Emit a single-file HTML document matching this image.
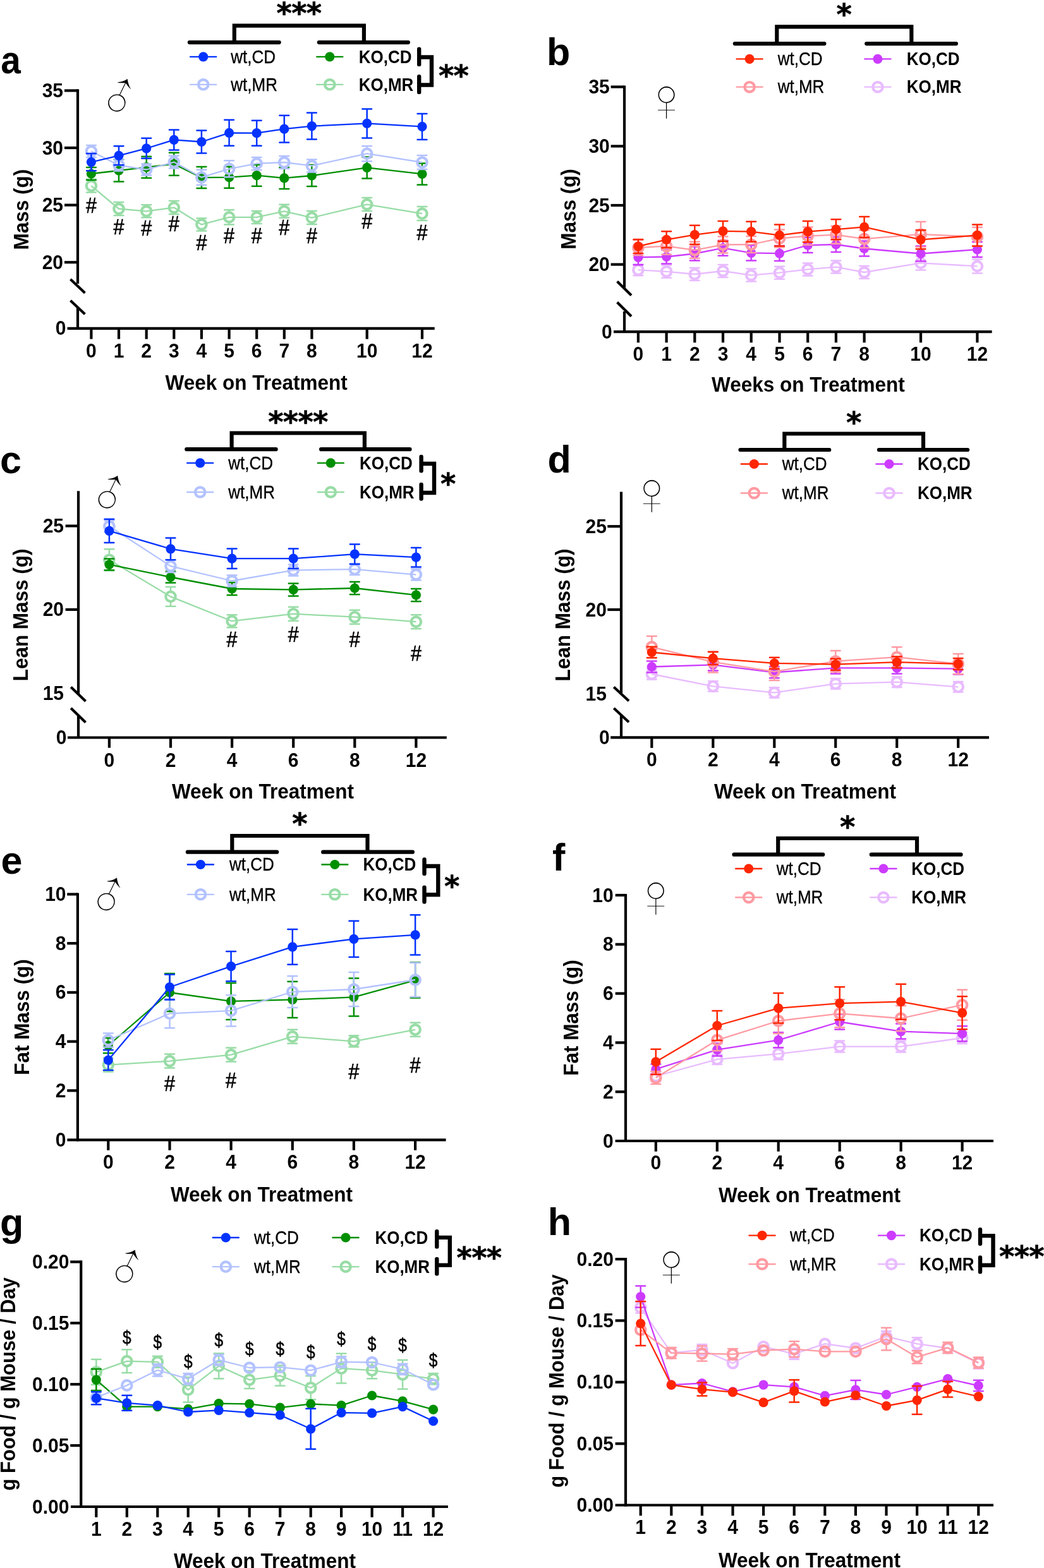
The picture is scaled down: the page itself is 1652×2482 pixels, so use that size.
<!DOCTYPE html>
<html><head><meta charset="utf-8"><title>Figure</title>
<style>html,body{margin:0;padding:0;background:#fff;} svg{display:block;} text{font-family:'Liberation Sans', Arial, Helvetica, sans-serif;fill:#000;}</style>
</head><body>
<svg width="1652" height="2482" viewBox="0 0 1652 2482">
<rect width="1652" height="2482" fill="#fff"/>

<text transform="translate(1.2 116.0) scale(0.93 1)" x="0" y="0" font-size="61" font-weight="bold">a</text>
<line x1="123" y1="141.3" x2="123" y2="449" stroke="#000" stroke-width="4.2" stroke-linecap="butt"/>
<line x1="123" y1="487" x2="123" y2="519.8" stroke="#000" stroke-width="4.2" stroke-linecap="butt"/>
<line x1="111.5" y1="442" x2="134.4" y2="463.7" stroke="#000" stroke-width="4.2" stroke-linecap="butt"/>
<line x1="111.5" y1="475.7" x2="134.4" y2="497.3" stroke="#000" stroke-width="4.2" stroke-linecap="butt"/>
<line x1="102" y1="143.4" x2="123" y2="143.4" stroke="#000" stroke-width="4.2" stroke-linecap="butt"/>
<text transform="translate(100 153.9) scale(1 1.05)" x="0" y="0" font-size="30" font-weight="bold" text-anchor="end">35</text>
<line x1="102" y1="234" x2="123" y2="234" stroke="#000" stroke-width="4.2" stroke-linecap="butt"/>
<text transform="translate(100 244.5) scale(1 1.05)" x="0" y="0" font-size="30" font-weight="bold" text-anchor="end">30</text>
<line x1="102" y1="324.6" x2="123" y2="324.6" stroke="#000" stroke-width="4.2" stroke-linecap="butt"/>
<text transform="translate(100 335.1) scale(1 1.05)" x="0" y="0" font-size="30" font-weight="bold" text-anchor="end">25</text>
<line x1="102" y1="415.2" x2="123" y2="415.2" stroke="#000" stroke-width="4.2" stroke-linecap="butt"/>
<text transform="translate(100 425.7) scale(1 1.05)" x="0" y="0" font-size="30" font-weight="bold" text-anchor="end">20</text>
<line x1="106.6" y1="519.8" x2="687.7" y2="519.8" stroke="#000" stroke-width="4.2" stroke-linecap="butt"/>
<line x1="144.4" y1="519.8" x2="144.4" y2="536.7" stroke="#000" stroke-width="4.2" stroke-linecap="butt"/>
<text transform="translate(144.4 566.3) scale(1 1.05)" x="0" y="0" font-size="30" font-weight="bold" text-anchor="middle">0</text>
<line x1="188" y1="519.8" x2="188" y2="536.7" stroke="#000" stroke-width="4.2" stroke-linecap="butt"/>
<text transform="translate(188 566.3) scale(1 1.05)" x="0" y="0" font-size="30" font-weight="bold" text-anchor="middle">1</text>
<line x1="231.7" y1="519.8" x2="231.7" y2="536.7" stroke="#000" stroke-width="4.2" stroke-linecap="butt"/>
<text transform="translate(231.7 566.3) scale(1 1.05)" x="0" y="0" font-size="30" font-weight="bold" text-anchor="middle">2</text>
<line x1="275.3" y1="519.8" x2="275.3" y2="536.7" stroke="#000" stroke-width="4.2" stroke-linecap="butt"/>
<text transform="translate(275.3 566.3) scale(1 1.05)" x="0" y="0" font-size="30" font-weight="bold" text-anchor="middle">3</text>
<line x1="318.9" y1="519.8" x2="318.9" y2="536.7" stroke="#000" stroke-width="4.2" stroke-linecap="butt"/>
<text transform="translate(318.9 566.3) scale(1 1.05)" x="0" y="0" font-size="30" font-weight="bold" text-anchor="middle">4</text>
<line x1="362.6" y1="519.8" x2="362.6" y2="536.7" stroke="#000" stroke-width="4.2" stroke-linecap="butt"/>
<text transform="translate(362.6 566.3) scale(1 1.05)" x="0" y="0" font-size="30" font-weight="bold" text-anchor="middle">5</text>
<line x1="406.2" y1="519.8" x2="406.2" y2="536.7" stroke="#000" stroke-width="4.2" stroke-linecap="butt"/>
<text transform="translate(406.2 566.3) scale(1 1.05)" x="0" y="0" font-size="30" font-weight="bold" text-anchor="middle">6</text>
<line x1="449.8" y1="519.8" x2="449.8" y2="536.7" stroke="#000" stroke-width="4.2" stroke-linecap="butt"/>
<text transform="translate(449.8 566.3) scale(1 1.05)" x="0" y="0" font-size="30" font-weight="bold" text-anchor="middle">7</text>
<line x1="493.4" y1="519.8" x2="493.4" y2="536.7" stroke="#000" stroke-width="4.2" stroke-linecap="butt"/>
<text transform="translate(493.4 566.3) scale(1 1.05)" x="0" y="0" font-size="30" font-weight="bold" text-anchor="middle">8</text>
<line x1="580.7" y1="519.8" x2="580.7" y2="536.7" stroke="#000" stroke-width="4.2" stroke-linecap="butt"/>
<text transform="translate(580.7 566.3) scale(1 1.05)" x="0" y="0" font-size="30" font-weight="bold" text-anchor="middle">10</text>
<line x1="668" y1="519.8" x2="668" y2="536.7" stroke="#000" stroke-width="4.2" stroke-linecap="butt"/>
<text transform="translate(668 566.3) scale(1 1.05)" x="0" y="0" font-size="30" font-weight="bold" text-anchor="middle">12</text>
<text transform="translate(104.5 530.3) scale(1 1.05)" x="0" y="0" font-size="30" font-weight="bold" text-anchor="end">0</text>
<text transform="translate(405.6 616.8) scale(1 1.06)" x="0" y="0" font-size="31.5" font-weight="bold" text-anchor="middle">Week on Treatment</text>
<text transform="translate(44.5 331.7) rotate(-90) scale(1 1.06)" x="0" y="0" font-size="31.5" font-weight="bold" text-anchor="middle">Mass (g)</text>
<polyline points="144.4,294.1 188,330.5 231.7,334.3 275.3,328.6 318.9,355.4 362.6,343.9 406.2,343.9 449.8,334.3 493.4,344.6 580.7,323.6 668,338.1" fill="none" stroke="#98DCA6" stroke-width="2.3" stroke-linejoin="round"/>
<path d="M144.4 283.6V284.5M144.4 303.7V304.6M137 283.6H151.8M137 304.6H151.8" stroke="#98DCA6" stroke-width="2.5" stroke-linecap="round" fill="none"/>
<path d="M188 320V320.9M188 340.1V341M180.6 320H195.4M180.6 341H195.4" stroke="#98DCA6" stroke-width="2.5" stroke-linecap="round" fill="none"/>
<path d="M231.7 324.3V324.7M231.7 343.9V344.3M224.3 324.3H239.1M224.3 344.3H239.1" stroke="#98DCA6" stroke-width="2.5" stroke-linecap="round" fill="none"/>
<path d="M275.3 318.1V319M275.3 338.2V339.1M267.9 318.1H282.7M267.9 339.1H282.7" stroke="#98DCA6" stroke-width="2.5" stroke-linecap="round" fill="none"/>
<path d="M318.9 345.4V345.8M318.9 365V365.4M311.5 345.4H326.3M311.5 365.4H326.3" stroke="#98DCA6" stroke-width="2.5" stroke-linecap="round" fill="none"/>
<path d="M362.6 332.2V334.3M362.6 353.5V355.6M355.2 332.2H369.9M355.2 355.6H369.9" stroke="#98DCA6" stroke-width="2.5" stroke-linecap="round" fill="none"/>
<path d="M406.2 333.9V334.3M406.2 353.5V353.9M398.8 333.9H413.6M398.8 353.9H413.6" stroke="#98DCA6" stroke-width="2.5" stroke-linecap="round" fill="none"/>
<path d="M449.8 323.8V324.7M449.8 343.9V344.8M442.4 323.8H457.2M442.4 344.8H457.2" stroke="#98DCA6" stroke-width="2.5" stroke-linecap="round" fill="none"/>
<path d="M493.4 334.1V335M493.4 354.2V355.1M486 334.1H500.8M486 355.1H500.8" stroke="#98DCA6" stroke-width="2.5" stroke-linecap="round" fill="none"/>
<path d="M580.7 313.1V314M580.7 333.2V334.1M573.3 313.1H588.1M573.3 334.1H588.1" stroke="#98DCA6" stroke-width="2.5" stroke-linecap="round" fill="none"/>
<path d="M668 327.1V328.5M668 347.7V349.1M660.6 327.1H675.4M660.6 349.1H675.4" stroke="#98DCA6" stroke-width="2.5" stroke-linecap="round" fill="none"/>
<circle cx="144.4" cy="294.1" r="7.7" fill="none" stroke="#98DCA6" stroke-width="4.2"/>
<circle cx="188" cy="330.5" r="7.7" fill="none" stroke="#98DCA6" stroke-width="4.2"/>
<circle cx="231.7" cy="334.3" r="7.7" fill="none" stroke="#98DCA6" stroke-width="4.2"/>
<circle cx="275.3" cy="328.6" r="7.7" fill="none" stroke="#98DCA6" stroke-width="4.2"/>
<circle cx="318.9" cy="355.4" r="7.7" fill="none" stroke="#98DCA6" stroke-width="4.2"/>
<circle cx="362.6" cy="343.9" r="7.7" fill="none" stroke="#98DCA6" stroke-width="4.2"/>
<circle cx="406.2" cy="343.9" r="7.7" fill="none" stroke="#98DCA6" stroke-width="4.2"/>
<circle cx="449.8" cy="334.3" r="7.7" fill="none" stroke="#98DCA6" stroke-width="4.2"/>
<circle cx="493.4" cy="344.6" r="7.7" fill="none" stroke="#98DCA6" stroke-width="4.2"/>
<circle cx="580.7" cy="323.6" r="7.7" fill="none" stroke="#98DCA6" stroke-width="4.2"/>
<circle cx="668" cy="338.1" r="7.7" fill="none" stroke="#98DCA6" stroke-width="4.2"/>
<polyline points="144.4,275 188,270 231.7,264.7 275.3,259.7 318.9,281.1 362.6,280.7 406.2,277.7 449.8,281.9 493.4,278 580.7,265.4 668,275.4" fill="none" stroke="#008F00" stroke-width="2.3" stroke-linejoin="round"/>
<path d="M144.4 265V268M144.4 282V285M137 265H151.8M137 285H151.8" stroke="#008F00" stroke-width="2.5" stroke-linecap="round" fill="none"/>
<path d="M188 252.5V263M188 277V287.5M180.6 252.5H195.4M180.6 287.5H195.4" stroke="#008F00" stroke-width="2.5" stroke-linecap="round" fill="none"/>
<path d="M231.7 247.7V257.7M231.7 271.7V281.7M224.3 247.7H239.1M224.3 281.7H239.1" stroke="#008F00" stroke-width="2.5" stroke-linecap="round" fill="none"/>
<path d="M275.3 241.7V252.7M275.3 266.7V277.7M267.9 241.7H282.7M267.9 277.7H282.7" stroke="#008F00" stroke-width="2.5" stroke-linecap="round" fill="none"/>
<path d="M318.9 264.1V274.1M318.9 288.1V298.1M311.5 264.1H326.3M311.5 298.1H326.3" stroke="#008F00" stroke-width="2.5" stroke-linecap="round" fill="none"/>
<path d="M362.6 263.7V273.7M362.6 287.7V297.7M355.2 263.7H369.9M355.2 297.7H369.9" stroke="#008F00" stroke-width="2.5" stroke-linecap="round" fill="none"/>
<path d="M406.2 260.7V270.7M406.2 284.7V294.7M398.8 260.7H413.6M398.8 294.7H413.6" stroke="#008F00" stroke-width="2.5" stroke-linecap="round" fill="none"/>
<path d="M449.8 264.9V274.9M449.8 288.9V298.9M442.4 264.9H457.2M442.4 298.9H457.2" stroke="#008F00" stroke-width="2.5" stroke-linecap="round" fill="none"/>
<path d="M493.4 261V271M493.4 285V295M486 261H500.8M486 295H500.8" stroke="#008F00" stroke-width="2.5" stroke-linecap="round" fill="none"/>
<path d="M580.7 248.4V258.4M580.7 272.4V282.4M573.3 248.4H588.1M573.3 282.4H588.1" stroke="#008F00" stroke-width="2.5" stroke-linecap="round" fill="none"/>
<path d="M668 258.4V268.4M668 282.4V292.4M660.6 258.4H675.4M660.6 292.4H675.4" stroke="#008F00" stroke-width="2.5" stroke-linecap="round" fill="none"/>
<circle cx="144.4" cy="275" r="7.6" fill="#008F00"/>
<circle cx="188" cy="270" r="7.6" fill="#008F00"/>
<circle cx="231.7" cy="264.7" r="7.6" fill="#008F00"/>
<circle cx="275.3" cy="259.7" r="7.6" fill="#008F00"/>
<circle cx="318.9" cy="281.1" r="7.6" fill="#008F00"/>
<circle cx="362.6" cy="280.7" r="7.6" fill="#008F00"/>
<circle cx="406.2" cy="277.7" r="7.6" fill="#008F00"/>
<circle cx="449.8" cy="281.9" r="7.6" fill="#008F00"/>
<circle cx="493.4" cy="278" r="7.6" fill="#008F00"/>
<circle cx="580.7" cy="265.4" r="7.6" fill="#008F00"/>
<circle cx="668" cy="275.4" r="7.6" fill="#008F00"/>
<polyline points="144.4,239.4 188,261.6 231.7,268.5 275.3,256.6 318.9,280.7 362.6,267.3 406.2,258.9 449.8,257 493.4,262.4 580.7,243.2 668,257" fill="none" stroke="#B3C2FF" stroke-width="2.3" stroke-linejoin="round"/>
<path d="M137 229.9H151.8M137 248.9H151.8" stroke="#B3C2FF" stroke-width="2.5" stroke-linecap="round" fill="none"/>
<path d="M180.6 252.6H195.4M180.6 270.6H195.4" stroke="#B3C2FF" stroke-width="2.5" stroke-linecap="round" fill="none"/>
<path d="M224.3 259.5H239.1M224.3 277.5H239.1" stroke="#B3C2FF" stroke-width="2.5" stroke-linecap="round" fill="none"/>
<path d="M275.3 246.6V247M275.3 266.2V266.6M267.9 246.6H282.7M267.9 266.6H282.7" stroke="#B3C2FF" stroke-width="2.5" stroke-linecap="round" fill="none"/>
<path d="M318.9 268.7V271.1M318.9 290.3V292.7M311.5 268.7H326.3M311.5 292.7H326.3" stroke="#B3C2FF" stroke-width="2.5" stroke-linecap="round" fill="none"/>
<path d="M362.6 254.3V257.7M362.6 276.9V280.3M355.2 254.3H369.9M355.2 280.3H369.9" stroke="#B3C2FF" stroke-width="2.5" stroke-linecap="round" fill="none"/>
<path d="M406.2 248.9V249.3M406.2 268.5V268.9M398.8 248.9H413.6M398.8 268.9H413.6" stroke="#B3C2FF" stroke-width="2.5" stroke-linecap="round" fill="none"/>
<path d="M449.8 247V247.4M449.8 266.6V267M442.4 247H457.2M442.4 267H457.2" stroke="#B3C2FF" stroke-width="2.5" stroke-linecap="round" fill="none"/>
<path d="M493.4 252.4V252.8M493.4 272V272.4M486 252.4H500.8M486 272.4H500.8" stroke="#B3C2FF" stroke-width="2.5" stroke-linecap="round" fill="none"/>
<path d="M580.7 231.2V233.6M580.7 252.8V255.2M573.3 231.2H588.1M573.3 255.2H588.1" stroke="#B3C2FF" stroke-width="2.5" stroke-linecap="round" fill="none"/>
<path d="M668 246V247.4M668 266.6V268M660.6 246H675.4M660.6 268H675.4" stroke="#B3C2FF" stroke-width="2.5" stroke-linecap="round" fill="none"/>
<circle cx="144.4" cy="239.4" r="7.7" fill="none" stroke="#B3C2FF" stroke-width="4.2"/>
<circle cx="188" cy="261.6" r="7.7" fill="none" stroke="#B3C2FF" stroke-width="4.2"/>
<circle cx="231.7" cy="268.5" r="7.7" fill="none" stroke="#B3C2FF" stroke-width="4.2"/>
<circle cx="275.3" cy="256.6" r="7.7" fill="none" stroke="#B3C2FF" stroke-width="4.2"/>
<circle cx="318.9" cy="280.7" r="7.7" fill="none" stroke="#B3C2FF" stroke-width="4.2"/>
<circle cx="362.6" cy="267.3" r="7.7" fill="none" stroke="#B3C2FF" stroke-width="4.2"/>
<circle cx="406.2" cy="258.9" r="7.7" fill="none" stroke="#B3C2FF" stroke-width="4.2"/>
<circle cx="449.8" cy="257" r="7.7" fill="none" stroke="#B3C2FF" stroke-width="4.2"/>
<circle cx="493.4" cy="262.4" r="7.7" fill="none" stroke="#B3C2FF" stroke-width="4.2"/>
<circle cx="580.7" cy="243.2" r="7.7" fill="none" stroke="#B3C2FF" stroke-width="4.2"/>
<circle cx="668" cy="257" r="7.7" fill="none" stroke="#B3C2FF" stroke-width="4.2"/>
<polyline points="144.4,256.6 188,246.3 231.7,234.8 275.3,221.4 318.9,224.5 362.6,210.3 406.2,210.7 449.8,204.2 493.4,199.6 580.7,195.4 668,200.4" fill="none" stroke="#0433FF" stroke-width="2.3" stroke-linejoin="round"/>
<path d="M144.4 243V249.6M144.4 263.6V270.2M137 243H151.8M137 270.2H151.8" stroke="#0433FF" stroke-width="2.5" stroke-linecap="round" fill="none"/>
<path d="M188 231.3V239.3M188 253.3V261.3M180.6 231.3H195.4M180.6 261.3H195.4" stroke="#0433FF" stroke-width="2.5" stroke-linecap="round" fill="none"/>
<path d="M231.7 218.8V227.8M231.7 241.8V250.8M224.3 218.8H239.1M224.3 250.8H239.1" stroke="#0433FF" stroke-width="2.5" stroke-linecap="round" fill="none"/>
<path d="M275.3 205.4V214.4M275.3 228.4V237.4M267.9 205.4H282.7M267.9 237.4H282.7" stroke="#0433FF" stroke-width="2.5" stroke-linecap="round" fill="none"/>
<path d="M318.9 206.5V217.5M318.9 231.5V242.5M311.5 206.5H326.3M311.5 242.5H326.3" stroke="#0433FF" stroke-width="2.5" stroke-linecap="round" fill="none"/>
<path d="M362.6 189.8V203.3M362.6 217.3V230.8M355.2 189.8H369.9M355.2 230.8H369.9" stroke="#0433FF" stroke-width="2.5" stroke-linecap="round" fill="none"/>
<path d="M406.2 190.7V203.7M406.2 217.7V230.7M398.8 190.7H413.6M398.8 230.7H413.6" stroke="#0433FF" stroke-width="2.5" stroke-linecap="round" fill="none"/>
<path d="M449.8 182.8V197.2M449.8 211.2V225.6M442.4 182.8H457.2M442.4 225.6H457.2" stroke="#0433FF" stroke-width="2.5" stroke-linecap="round" fill="none"/>
<path d="M493.4 178.6V192.6M493.4 206.6V220.6M486 178.6H500.8M486 220.6H500.8" stroke="#0433FF" stroke-width="2.5" stroke-linecap="round" fill="none"/>
<path d="M580.7 172.4V188.4M580.7 202.4V218.4M573.3 172.4H588.1M573.3 218.4H588.1" stroke="#0433FF" stroke-width="2.5" stroke-linecap="round" fill="none"/>
<path d="M668 179.9V193.4M668 207.4V220.9M660.6 179.9H675.4M660.6 220.9H675.4" stroke="#0433FF" stroke-width="2.5" stroke-linecap="round" fill="none"/>
<circle cx="144.4" cy="256.6" r="7.6" fill="#0433FF"/>
<circle cx="188" cy="246.3" r="7.6" fill="#0433FF"/>
<circle cx="231.7" cy="234.8" r="7.6" fill="#0433FF"/>
<circle cx="275.3" cy="221.4" r="7.6" fill="#0433FF"/>
<circle cx="318.9" cy="224.5" r="7.6" fill="#0433FF"/>
<circle cx="362.6" cy="210.3" r="7.6" fill="#0433FF"/>
<circle cx="406.2" cy="210.7" r="7.6" fill="#0433FF"/>
<circle cx="449.8" cy="204.2" r="7.6" fill="#0433FF"/>
<circle cx="493.4" cy="199.6" r="7.6" fill="#0433FF"/>
<circle cx="580.7" cy="195.4" r="7.6" fill="#0433FF"/>
<circle cx="668" cy="200.4" r="7.6" fill="#0433FF"/>
<text transform="translate(144.4 324.7) scale(0.86 1)" x="0" y="12.1" font-size="35.5" font-weight="normal" text-anchor="middle" stroke="#000" stroke-width="0.6">#</text>
<text transform="translate(188 359) scale(0.86 1)" x="0" y="12.1" font-size="35.5" font-weight="normal" text-anchor="middle" stroke="#000" stroke-width="0.6">#</text>
<text transform="translate(231.7 361) scale(0.86 1)" x="0" y="12.1" font-size="35.5" font-weight="normal" text-anchor="middle" stroke="#000" stroke-width="0.6">#</text>
<text transform="translate(275.3 354) scale(0.86 1)" x="0" y="12.1" font-size="35.5" font-weight="normal" text-anchor="middle" stroke="#000" stroke-width="0.6">#</text>
<text transform="translate(318.9 384) scale(0.86 1)" x="0" y="12.1" font-size="35.5" font-weight="normal" text-anchor="middle" stroke="#000" stroke-width="0.6">#</text>
<text transform="translate(362.6 373) scale(0.86 1)" x="0" y="12.1" font-size="35.5" font-weight="normal" text-anchor="middle" stroke="#000" stroke-width="0.6">#</text>
<text transform="translate(406.2 372.6) scale(0.86 1)" x="0" y="12.1" font-size="35.5" font-weight="normal" text-anchor="middle" stroke="#000" stroke-width="0.6">#</text>
<text transform="translate(449.8 360) scale(0.86 1)" x="0" y="12.1" font-size="35.5" font-weight="normal" text-anchor="middle" stroke="#000" stroke-width="0.6">#</text>
<text transform="translate(493.4 373) scale(0.86 1)" x="0" y="12.1" font-size="35.5" font-weight="normal" text-anchor="middle" stroke="#000" stroke-width="0.6">#</text>
<text transform="translate(580.7 350) scale(0.86 1)" x="0" y="12.1" font-size="35.5" font-weight="normal" text-anchor="middle" stroke="#000" stroke-width="0.6">#</text>
<text transform="translate(668 368) scale(0.86 1)" x="0" y="12.1" font-size="35.5" font-weight="normal" text-anchor="middle" stroke="#000" stroke-width="0.6">#</text>
<line x1="300.2" y1="89.8" x2="343.2" y2="89.8" stroke="#0433FF" stroke-width="2.3" stroke-linecap="butt"/>
<circle cx="321.7" cy="89.8" r="7.6" fill="#0433FF"/>
<text transform="translate(365.3 99.5) scale(1 1.1)" x="0" y="0" font-size="26" font-weight="normal" text-anchor="start" stroke="#000" stroke-width="0.3">wt,CD</text>
<line x1="500.3" y1="89.8" x2="543.3" y2="89.8" stroke="#008F00" stroke-width="2.3" stroke-linecap="butt"/>
<circle cx="521.8" cy="89.8" r="7.6" fill="#008F00"/>
<text transform="translate(567.7 99.5) scale(1 1.1)" x="0" y="0" font-size="26" font-weight="bold" text-anchor="start">KO,CD</text>
<line x1="300.2" y1="133.8" x2="343.2" y2="133.8" stroke="#B3C2FF" stroke-width="2.3" stroke-linecap="butt"/>
<circle cx="321.7" cy="133.8" r="7.7" fill="none" stroke="#B3C2FF" stroke-width="4.2"/>
<text transform="translate(365.3 143.5) scale(1 1.1)" x="0" y="0" font-size="26" font-weight="normal" text-anchor="start" stroke="#000" stroke-width="0.3">wt,MR</text>
<line x1="500.3" y1="133.8" x2="543.3" y2="133.8" stroke="#98DCA6" stroke-width="2.3" stroke-linecap="butt"/>
<circle cx="521.8" cy="133.8" r="7.7" fill="none" stroke="#98DCA6" stroke-width="4.2"/>
<text transform="translate(567.7 143.5) scale(1 1.1)" x="0" y="0" font-size="26" font-weight="bold" text-anchor="start">KO,MR</text>
<path d="M299.9 67.1H441.7M504.8 67.1H645.9" stroke="#000" stroke-width="6.2" stroke-linecap="round" fill="none"/>
<path d="M370.8 67.1V40.7H575.9V67.1" stroke="#000" stroke-width="6.2" stroke-linejoin="miter" fill="none"/>
<text x="437.6" y="36.6" font-size="46.5" font-weight="bold" text-anchor="start" letter-spacing="-0.7" stroke="#000" stroke-width="0.6" stroke-linejoin="round" style="font-family:'DejaVu Sans',sans-serif">***</text>
<path d="M663.2 77.7V101.9M663.2 121.3V145.9" stroke="#000" stroke-width="6.4" stroke-linecap="round" fill="none"/>
<path d="M663.2 90.5H683V134.5H663.2" stroke="#000" stroke-width="6.4" stroke-linejoin="miter" fill="none"/>
<text x="693.9" y="136.2" font-size="46.5" font-weight="bold" text-anchor="start" letter-spacing="-0.7" stroke="#000" stroke-width="0.6" stroke-linejoin="round" style="font-family:'DejaVu Sans',sans-serif">**</text>
<text x="152.4" y="190.7" font-size="106" font-weight="normal" stroke="#fff" stroke-width="2.3" transform="rotate(-19 184.9 162.9)">&#9794;</text>
<text x="865" y="102.9" font-size="61" font-weight="bold" text-anchor="start">b</text>
<line x1="988" y1="135.4" x2="988" y2="455" stroke="#000" stroke-width="4.2" stroke-linecap="butt"/>
<line x1="988" y1="493" x2="988" y2="525.1" stroke="#000" stroke-width="4.2" stroke-linecap="butt"/>
<line x1="976.6" y1="445.4" x2="999" y2="467.6" stroke="#000" stroke-width="4.2" stroke-linecap="butt"/>
<line x1="976.6" y1="478.6" x2="999" y2="500.8" stroke="#000" stroke-width="4.2" stroke-linecap="butt"/>
<line x1="966.6" y1="137.5" x2="988" y2="137.5" stroke="#000" stroke-width="4.2" stroke-linecap="butt"/>
<text transform="translate(964.8 148) scale(1 1.05)" x="0" y="0" font-size="30" font-weight="bold" text-anchor="end">35</text>
<line x1="966.6" y1="231.4" x2="988" y2="231.4" stroke="#000" stroke-width="4.2" stroke-linecap="butt"/>
<text transform="translate(964.8 241.9) scale(1 1.05)" x="0" y="0" font-size="30" font-weight="bold" text-anchor="end">30</text>
<line x1="966.6" y1="325" x2="988" y2="325" stroke="#000" stroke-width="4.2" stroke-linecap="butt"/>
<text transform="translate(964.8 335.5) scale(1 1.05)" x="0" y="0" font-size="30" font-weight="bold" text-anchor="end">25</text>
<line x1="966.6" y1="418.6" x2="988" y2="418.6" stroke="#000" stroke-width="4.2" stroke-linecap="butt"/>
<text transform="translate(964.8 429.1) scale(1 1.05)" x="0" y="0" font-size="30" font-weight="bold" text-anchor="end">20</text>
<line x1="971" y1="525.1" x2="1569.6" y2="525.1" stroke="#000" stroke-width="4.2" stroke-linecap="butt"/>
<line x1="1009.9" y1="525.1" x2="1009.9" y2="542.3" stroke="#000" stroke-width="4.2" stroke-linecap="butt"/>
<text transform="translate(1009.9 570.6) scale(1 1.05)" x="0" y="0" font-size="30" font-weight="bold" text-anchor="middle">0</text>
<line x1="1054.6" y1="525.1" x2="1054.6" y2="542.3" stroke="#000" stroke-width="4.2" stroke-linecap="butt"/>
<text transform="translate(1054.6 570.6) scale(1 1.05)" x="0" y="0" font-size="30" font-weight="bold" text-anchor="middle">1</text>
<line x1="1099.3" y1="525.1" x2="1099.3" y2="542.3" stroke="#000" stroke-width="4.2" stroke-linecap="butt"/>
<text transform="translate(1099.3 570.6) scale(1 1.05)" x="0" y="0" font-size="30" font-weight="bold" text-anchor="middle">2</text>
<line x1="1144" y1="525.1" x2="1144" y2="542.3" stroke="#000" stroke-width="4.2" stroke-linecap="butt"/>
<text transform="translate(1144 570.6) scale(1 1.05)" x="0" y="0" font-size="30" font-weight="bold" text-anchor="middle">3</text>
<line x1="1188.7" y1="525.1" x2="1188.7" y2="542.3" stroke="#000" stroke-width="4.2" stroke-linecap="butt"/>
<text transform="translate(1188.7 570.6) scale(1 1.05)" x="0" y="0" font-size="30" font-weight="bold" text-anchor="middle">4</text>
<line x1="1233.5" y1="525.1" x2="1233.5" y2="542.3" stroke="#000" stroke-width="4.2" stroke-linecap="butt"/>
<text transform="translate(1233.5 570.6) scale(1 1.05)" x="0" y="0" font-size="30" font-weight="bold" text-anchor="middle">5</text>
<line x1="1278.2" y1="525.1" x2="1278.2" y2="542.3" stroke="#000" stroke-width="4.2" stroke-linecap="butt"/>
<text transform="translate(1278.2 570.6) scale(1 1.05)" x="0" y="0" font-size="30" font-weight="bold" text-anchor="middle">6</text>
<line x1="1322.9" y1="525.1" x2="1322.9" y2="542.3" stroke="#000" stroke-width="4.2" stroke-linecap="butt"/>
<text transform="translate(1322.9 570.6) scale(1 1.05)" x="0" y="0" font-size="30" font-weight="bold" text-anchor="middle">7</text>
<line x1="1367.6" y1="525.1" x2="1367.6" y2="542.3" stroke="#000" stroke-width="4.2" stroke-linecap="butt"/>
<text transform="translate(1367.6 570.6) scale(1 1.05)" x="0" y="0" font-size="30" font-weight="bold" text-anchor="middle">8</text>
<line x1="1457" y1="525.1" x2="1457" y2="542.3" stroke="#000" stroke-width="4.2" stroke-linecap="butt"/>
<text transform="translate(1457 570.6) scale(1 1.05)" x="0" y="0" font-size="30" font-weight="bold" text-anchor="middle">10</text>
<line x1="1546.4" y1="525.1" x2="1546.4" y2="542.3" stroke="#000" stroke-width="4.2" stroke-linecap="butt"/>
<text transform="translate(1546.4 570.6) scale(1 1.05)" x="0" y="0" font-size="30" font-weight="bold" text-anchor="middle">12</text>
<text transform="translate(968.7 535.6) scale(1 1.05)" x="0" y="0" font-size="30" font-weight="bold" text-anchor="end">0</text>
<text transform="translate(1278.9 619.6) scale(1 1.06)" x="0" y="0" font-size="31.5" font-weight="bold" text-anchor="middle">Weeks on Treatment</text>
<text transform="translate(910.5 331) rotate(-90) scale(1 1.06)" x="0" y="0" font-size="31.5" font-weight="bold" text-anchor="middle">Mass (g)</text>
<polyline points="1009.9,427.2 1054.6,429.8 1099.3,434 1144,429 1188.7,435.6 1233.5,431.7 1278.2,426.4 1322.9,422.6 1367.6,431 1457,416.4 1546.4,421.4" fill="none" stroke="#E8BBFF" stroke-width="2.3" stroke-linejoin="round"/>
<path d="M1002.5 418.2H1017.3M1002.5 436.2H1017.3" stroke="#E8BBFF" stroke-width="2.5" stroke-linecap="round" fill="none"/>
<path d="M1054.6 419.8V420.2M1054.6 439.4V439.8M1047.2 419.8H1062M1047.2 439.8H1062" stroke="#E8BBFF" stroke-width="2.5" stroke-linecap="round" fill="none"/>
<path d="M1099.3 424V424.4M1099.3 443.6V444M1091.9 424H1106.7M1091.9 444H1106.7" stroke="#E8BBFF" stroke-width="2.5" stroke-linecap="round" fill="none"/>
<path d="M1144 419V419.4M1144 438.6V439M1136.6 419H1151.4M1136.6 439H1151.4" stroke="#E8BBFF" stroke-width="2.5" stroke-linecap="round" fill="none"/>
<path d="M1188.7 425.6V426M1188.7 445.2V445.6M1181.3 425.6H1196.1M1181.3 445.6H1196.1" stroke="#E8BBFF" stroke-width="2.5" stroke-linecap="round" fill="none"/>
<path d="M1233.5 421.7V422.1M1233.5 441.3V441.7M1226 421.7H1240.9M1226 441.7H1240.9" stroke="#E8BBFF" stroke-width="2.5" stroke-linecap="round" fill="none"/>
<path d="M1278.2 416.4V416.8M1278.2 436V436.4M1270.8 416.4H1285.6M1270.8 436.4H1285.6" stroke="#E8BBFF" stroke-width="2.5" stroke-linecap="round" fill="none"/>
<path d="M1322.9 412.6V413M1322.9 432.2V432.6M1315.5 412.6H1330.3M1315.5 432.6H1330.3" stroke="#E8BBFF" stroke-width="2.5" stroke-linecap="round" fill="none"/>
<path d="M1367.6 421V421.4M1367.6 440.6V441M1360.2 421H1375M1360.2 441H1375" stroke="#E8BBFF" stroke-width="2.5" stroke-linecap="round" fill="none"/>
<path d="M1457 405.4V406.8M1457 426V427.4M1449.6 405.4H1464.4M1449.6 427.4H1464.4" stroke="#E8BBFF" stroke-width="2.5" stroke-linecap="round" fill="none"/>
<path d="M1546.4 410.4V411.8M1546.4 431V432.4M1539 410.4H1553.8M1539 432.4H1553.8" stroke="#E8BBFF" stroke-width="2.5" stroke-linecap="round" fill="none"/>
<circle cx="1009.9" cy="427.2" r="7.7" fill="none" stroke="#E8BBFF" stroke-width="4.2"/>
<circle cx="1054.6" cy="429.8" r="7.7" fill="none" stroke="#E8BBFF" stroke-width="4.2"/>
<circle cx="1099.3" cy="434" r="7.7" fill="none" stroke="#E8BBFF" stroke-width="4.2"/>
<circle cx="1144" cy="429" r="7.7" fill="none" stroke="#E8BBFF" stroke-width="4.2"/>
<circle cx="1188.7" cy="435.6" r="7.7" fill="none" stroke="#E8BBFF" stroke-width="4.2"/>
<circle cx="1233.5" cy="431.7" r="7.7" fill="none" stroke="#E8BBFF" stroke-width="4.2"/>
<circle cx="1278.2" cy="426.4" r="7.7" fill="none" stroke="#E8BBFF" stroke-width="4.2"/>
<circle cx="1322.9" cy="422.6" r="7.7" fill="none" stroke="#E8BBFF" stroke-width="4.2"/>
<circle cx="1367.6" cy="431" r="7.7" fill="none" stroke="#E8BBFF" stroke-width="4.2"/>
<circle cx="1457" cy="416.4" r="7.7" fill="none" stroke="#E8BBFF" stroke-width="4.2"/>
<circle cx="1546.4" cy="421.4" r="7.7" fill="none" stroke="#E8BBFF" stroke-width="4.2"/>
<polyline points="1009.9,407.3 1054.6,406.5 1099.3,401.5 1144,392.7 1188.7,400.4 1233.5,401.1 1278.2,388.1 1322.9,387 1367.6,393.5 1457,401.5 1546.4,395" fill="none" stroke="#CC3BFF" stroke-width="2.3" stroke-linejoin="round"/>
<path d="M1009.9 395.3V400.3M1009.9 414.3V419.3M1002.5 395.3H1017.3M1002.5 419.3H1017.3" stroke="#CC3BFF" stroke-width="2.5" stroke-linecap="round" fill="none"/>
<path d="M1054.6 395.5V399.5M1054.6 413.5V417.5M1047.2 395.5H1062M1047.2 417.5H1062" stroke="#CC3BFF" stroke-width="2.5" stroke-linecap="round" fill="none"/>
<path d="M1099.3 390.5V394.5M1099.3 408.5V412.5M1091.9 390.5H1106.7M1091.9 412.5H1106.7" stroke="#CC3BFF" stroke-width="2.5" stroke-linecap="round" fill="none"/>
<path d="M1144 380.7V385.7M1144 399.7V404.7M1136.6 380.7H1151.4M1136.6 404.7H1151.4" stroke="#CC3BFF" stroke-width="2.5" stroke-linecap="round" fill="none"/>
<path d="M1188.7 388.4V393.4M1188.7 407.4V412.4M1181.3 388.4H1196.1M1181.3 412.4H1196.1" stroke="#CC3BFF" stroke-width="2.5" stroke-linecap="round" fill="none"/>
<path d="M1233.5 389.1V394.1M1233.5 408.1V413.1M1226 389.1H1240.9M1226 413.1H1240.9" stroke="#CC3BFF" stroke-width="2.5" stroke-linecap="round" fill="none"/>
<path d="M1278.2 376.1V381.1M1278.2 395.1V400.1M1270.8 376.1H1285.6M1270.8 400.1H1285.6" stroke="#CC3BFF" stroke-width="2.5" stroke-linecap="round" fill="none"/>
<path d="M1322.9 375V380M1322.9 394V399M1315.5 375H1330.3M1315.5 399H1330.3" stroke="#CC3BFF" stroke-width="2.5" stroke-linecap="round" fill="none"/>
<path d="M1367.6 381.5V386.5M1367.6 400.5V405.5M1360.2 381.5H1375M1360.2 405.5H1375" stroke="#CC3BFF" stroke-width="2.5" stroke-linecap="round" fill="none"/>
<path d="M1457 389.5V394.5M1457 408.5V413.5M1449.6 389.5H1464.4M1449.6 413.5H1464.4" stroke="#CC3BFF" stroke-width="2.5" stroke-linecap="round" fill="none"/>
<path d="M1546.4 383V388M1546.4 402V407M1539 383H1553.8M1539 407H1553.8" stroke="#CC3BFF" stroke-width="2.5" stroke-linecap="round" fill="none"/>
<circle cx="1009.9" cy="407.3" r="7.6" fill="#CC3BFF"/>
<circle cx="1054.6" cy="406.5" r="7.6" fill="#CC3BFF"/>
<circle cx="1099.3" cy="401.5" r="7.6" fill="#CC3BFF"/>
<circle cx="1144" cy="392.7" r="7.6" fill="#CC3BFF"/>
<circle cx="1188.7" cy="400.4" r="7.6" fill="#CC3BFF"/>
<circle cx="1233.5" cy="401.1" r="7.6" fill="#CC3BFF"/>
<circle cx="1278.2" cy="388.1" r="7.6" fill="#CC3BFF"/>
<circle cx="1322.9" cy="387" r="7.6" fill="#CC3BFF"/>
<circle cx="1367.6" cy="393.5" r="7.6" fill="#CC3BFF"/>
<circle cx="1457" cy="401.5" r="7.6" fill="#CC3BFF"/>
<circle cx="1546.4" cy="395" r="7.6" fill="#CC3BFF"/>
<polyline points="1009.9,392 1054.6,389.7 1099.3,395.8 1144,387.4 1188.7,387 1233.5,377.4 1278.2,373.6 1322.9,371.7 1367.6,378.2 1457,370.9 1546.4,374.7" fill="none" stroke="#FF9AA2" stroke-width="2.3" stroke-linejoin="round"/>
<path d="M1009.9 380V382.4M1009.9 401.6V404M1002.5 380H1017.3M1002.5 404H1017.3" stroke="#FF9AA2" stroke-width="2.5" stroke-linecap="round" fill="none"/>
<path d="M1054.6 376.7V380.1M1054.6 399.3V402.7M1047.2 376.7H1062M1047.2 402.7H1062" stroke="#FF9AA2" stroke-width="2.5" stroke-linecap="round" fill="none"/>
<path d="M1099.3 382.8V386.2M1099.3 405.4V408.8M1091.9 382.8H1106.7M1091.9 408.8H1106.7" stroke="#FF9AA2" stroke-width="2.5" stroke-linecap="round" fill="none"/>
<path d="M1144 374.4V377.8M1144 397V400.4M1136.6 374.4H1151.4M1136.6 400.4H1151.4" stroke="#FF9AA2" stroke-width="2.5" stroke-linecap="round" fill="none"/>
<path d="M1188.7 374V377.4M1188.7 396.6V400M1181.3 374H1196.1M1181.3 400H1196.1" stroke="#FF9AA2" stroke-width="2.5" stroke-linecap="round" fill="none"/>
<path d="M1233.5 363.4V367.8M1233.5 387V391.4M1226 363.4H1240.9M1226 391.4H1240.9" stroke="#FF9AA2" stroke-width="2.5" stroke-linecap="round" fill="none"/>
<path d="M1278.2 359.6V364M1278.2 383.2V387.6M1270.8 359.6H1285.6M1270.8 387.6H1285.6" stroke="#FF9AA2" stroke-width="2.5" stroke-linecap="round" fill="none"/>
<path d="M1322.9 357.7V362.1M1322.9 381.3V385.7M1315.5 357.7H1330.3M1315.5 385.7H1330.3" stroke="#FF9AA2" stroke-width="2.5" stroke-linecap="round" fill="none"/>
<path d="M1367.6 364.2V368.6M1367.6 387.8V392.2M1360.2 364.2H1375M1360.2 392.2H1375" stroke="#FF9AA2" stroke-width="2.5" stroke-linecap="round" fill="none"/>
<path d="M1457 350.9V361.3M1457 380.5V390.9M1449.6 350.9H1464.4M1449.6 390.9H1464.4" stroke="#FF9AA2" stroke-width="2.5" stroke-linecap="round" fill="none"/>
<path d="M1546.4 359.7V365.1M1546.4 384.3V389.7M1539 359.7H1553.8M1539 389.7H1553.8" stroke="#FF9AA2" stroke-width="2.5" stroke-linecap="round" fill="none"/>
<circle cx="1009.9" cy="392" r="7.7" fill="none" stroke="#FF9AA2" stroke-width="4.2"/>
<circle cx="1054.6" cy="389.7" r="7.7" fill="none" stroke="#FF9AA2" stroke-width="4.2"/>
<circle cx="1099.3" cy="395.8" r="7.7" fill="none" stroke="#FF9AA2" stroke-width="4.2"/>
<circle cx="1144" cy="387.4" r="7.7" fill="none" stroke="#FF9AA2" stroke-width="4.2"/>
<circle cx="1188.7" cy="387" r="7.7" fill="none" stroke="#FF9AA2" stroke-width="4.2"/>
<circle cx="1233.5" cy="377.4" r="7.7" fill="none" stroke="#FF9AA2" stroke-width="4.2"/>
<circle cx="1278.2" cy="373.6" r="7.7" fill="none" stroke="#FF9AA2" stroke-width="4.2"/>
<circle cx="1322.9" cy="371.7" r="7.7" fill="none" stroke="#FF9AA2" stroke-width="4.2"/>
<circle cx="1367.6" cy="378.2" r="7.7" fill="none" stroke="#FF9AA2" stroke-width="4.2"/>
<circle cx="1457" cy="370.9" r="7.7" fill="none" stroke="#FF9AA2" stroke-width="4.2"/>
<circle cx="1546.4" cy="374.7" r="7.7" fill="none" stroke="#FF9AA2" stroke-width="4.2"/>
<polyline points="1009.9,390 1054.6,379.3 1099.3,371.7 1144,365.9 1188.7,366.7 1233.5,372.4 1278.2,366.7 1322.9,363.2 1367.6,359.4 1457,379.3 1546.4,372.4" fill="none" stroke="#FF2600" stroke-width="2.3" stroke-linejoin="round"/>
<path d="M1009.9 379V383M1009.9 397V401M1002.5 379H1017.3M1002.5 401H1017.3" stroke="#FF2600" stroke-width="2.5" stroke-linecap="round" fill="none"/>
<path d="M1054.6 366.3V372.3M1054.6 386.3V392.3M1047.2 366.3H1062M1047.2 392.3H1062" stroke="#FF2600" stroke-width="2.5" stroke-linecap="round" fill="none"/>
<path d="M1099.3 356.7V364.7M1099.3 378.7V386.7M1091.9 356.7H1106.7M1091.9 386.7H1106.7" stroke="#FF2600" stroke-width="2.5" stroke-linecap="round" fill="none"/>
<path d="M1144 349.9V358.9M1144 372.9V381.9M1136.6 349.9H1151.4M1136.6 381.9H1151.4" stroke="#FF2600" stroke-width="2.5" stroke-linecap="round" fill="none"/>
<path d="M1188.7 350.7V359.7M1188.7 373.7V382.7M1181.3 350.7H1196.1M1181.3 382.7H1196.1" stroke="#FF2600" stroke-width="2.5" stroke-linecap="round" fill="none"/>
<path d="M1233.5 355.4V365.4M1233.5 379.4V389.4M1226 355.4H1240.9M1226 389.4H1240.9" stroke="#FF2600" stroke-width="2.5" stroke-linecap="round" fill="none"/>
<path d="M1278.2 350.1V359.7M1278.2 373.7V383.3M1270.8 350.1H1285.6M1270.8 383.3H1285.6" stroke="#FF2600" stroke-width="2.5" stroke-linecap="round" fill="none"/>
<path d="M1322.9 347.2V356.2M1322.9 370.2V379.2M1315.5 347.2H1330.3M1315.5 379.2H1330.3" stroke="#FF2600" stroke-width="2.5" stroke-linecap="round" fill="none"/>
<path d="M1367.6 343V352.4M1367.6 366.4V375.8M1360.2 343H1375M1360.2 375.8H1375" stroke="#FF2600" stroke-width="2.5" stroke-linecap="round" fill="none"/>
<path d="M1457 364.3V372.3M1457 386.3V394.3M1449.6 364.3H1464.4M1449.6 394.3H1464.4" stroke="#FF2600" stroke-width="2.5" stroke-linecap="round" fill="none"/>
<path d="M1546.4 355.4V365.4M1546.4 379.4V389.4M1539 355.4H1553.8M1539 389.4H1553.8" stroke="#FF2600" stroke-width="2.5" stroke-linecap="round" fill="none"/>
<circle cx="1009.9" cy="390" r="7.6" fill="#FF2600"/>
<circle cx="1054.6" cy="379.3" r="7.6" fill="#FF2600"/>
<circle cx="1099.3" cy="371.7" r="7.6" fill="#FF2600"/>
<circle cx="1144" cy="365.9" r="7.6" fill="#FF2600"/>
<circle cx="1188.7" cy="366.7" r="7.6" fill="#FF2600"/>
<circle cx="1233.5" cy="372.4" r="7.6" fill="#FF2600"/>
<circle cx="1278.2" cy="366.7" r="7.6" fill="#FF2600"/>
<circle cx="1322.9" cy="363.2" r="7.6" fill="#FF2600"/>
<circle cx="1367.6" cy="359.4" r="7.6" fill="#FF2600"/>
<circle cx="1457" cy="379.3" r="7.6" fill="#FF2600"/>
<circle cx="1546.4" cy="372.4" r="7.6" fill="#FF2600"/>
<line x1="1164.6" y1="93.3" x2="1207.6" y2="93.3" stroke="#FF2600" stroke-width="2.3" stroke-linecap="butt"/>
<circle cx="1186.1" cy="93.3" r="7.6" fill="#FF2600"/>
<text transform="translate(1230.7 103) scale(1 1.1)" x="0" y="0" font-size="26" font-weight="normal" text-anchor="start" stroke="#000" stroke-width="0.3">wt,CD</text>
<line x1="1367.4" y1="93.3" x2="1410.4" y2="93.3" stroke="#CC3BFF" stroke-width="2.3" stroke-linecap="butt"/>
<circle cx="1388.9" cy="93.3" r="7.6" fill="#CC3BFF"/>
<text transform="translate(1434.8 103) scale(1 1.1)" x="0" y="0" font-size="26" font-weight="bold" text-anchor="start">KO,CD</text>
<line x1="1164.6" y1="137.7" x2="1207.6" y2="137.7" stroke="#FF9AA2" stroke-width="2.3" stroke-linecap="butt"/>
<circle cx="1186.1" cy="137.7" r="7.7" fill="none" stroke="#FF9AA2" stroke-width="4.2"/>
<text transform="translate(1230.7 147.4) scale(1 1.1)" x="0" y="0" font-size="26" font-weight="normal" text-anchor="start" stroke="#000" stroke-width="0.3">wt,MR</text>
<line x1="1367.4" y1="137.7" x2="1410.4" y2="137.7" stroke="#E8BBFF" stroke-width="2.3" stroke-linecap="butt"/>
<circle cx="1388.9" cy="137.7" r="7.7" fill="none" stroke="#E8BBFF" stroke-width="4.2"/>
<text transform="translate(1434.8 147.4) scale(1 1.1)" x="0" y="0" font-size="26" font-weight="bold" text-anchor="start">KO,MR</text>
<path d="M1162.8 69.1H1304.4M1371.2 69.1H1512.9" stroke="#000" stroke-width="6.2" stroke-linecap="round" fill="none"/>
<path d="M1229.3 69.1V42.4H1442.3V69.1" stroke="#000" stroke-width="6.2" stroke-linejoin="miter" fill="none"/>
<text x="1323.6" y="38.9" font-size="46.5" font-weight="bold" text-anchor="start" letter-spacing="-0.7" stroke="#000" stroke-width="0.6" stroke-linejoin="round" style="font-family:'DejaVu Sans',sans-serif">*</text>
<text x="1016.3" y="193.3" font-size="102" font-weight="normal" stroke="#fff" stroke-width="2.4">&#9792;</text>
<text x="0.1" y="748.7" font-size="61" font-weight="bold" text-anchor="start">c</text>
<line x1="124" y1="777.2" x2="124" y2="1099" stroke="#000" stroke-width="4.2" stroke-linecap="butt"/>
<line x1="124" y1="1132.5" x2="124" y2="1167.5" stroke="#000" stroke-width="4.2" stroke-linecap="butt"/>
<line x1="112.2" y1="1087.5" x2="135.5" y2="1110" stroke="#000" stroke-width="4.2" stroke-linecap="butt"/>
<line x1="112.2" y1="1121" x2="135.5" y2="1143.6" stroke="#000" stroke-width="4.2" stroke-linecap="butt"/>
<line x1="103.6" y1="832.5" x2="124" y2="832.5" stroke="#000" stroke-width="4.2" stroke-linecap="butt"/>
<text transform="translate(101 843) scale(1 1.05)" x="0" y="0" font-size="30" font-weight="bold" text-anchor="end">25</text>
<line x1="103.6" y1="964.9" x2="124" y2="964.9" stroke="#000" stroke-width="4.2" stroke-linecap="butt"/>
<text transform="translate(101 975.4) scale(1 1.05)" x="0" y="0" font-size="30" font-weight="bold" text-anchor="end">20</text>
<line x1="107" y1="1167.5" x2="706.8" y2="1167.5" stroke="#000" stroke-width="4.2" stroke-linecap="butt"/>
<line x1="172.9" y1="1167.5" x2="172.9" y2="1183.7" stroke="#000" stroke-width="4.2" stroke-linecap="butt"/>
<text transform="translate(172.9 1213.6) scale(1 1.05)" x="0" y="0" font-size="30" font-weight="bold" text-anchor="middle">0</text>
<line x1="270" y1="1167.5" x2="270" y2="1183.7" stroke="#000" stroke-width="4.2" stroke-linecap="butt"/>
<text transform="translate(270 1213.6) scale(1 1.05)" x="0" y="0" font-size="30" font-weight="bold" text-anchor="middle">2</text>
<line x1="367.1" y1="1167.5" x2="367.1" y2="1183.7" stroke="#000" stroke-width="4.2" stroke-linecap="butt"/>
<text transform="translate(367.1 1213.6) scale(1 1.05)" x="0" y="0" font-size="30" font-weight="bold" text-anchor="middle">4</text>
<line x1="464.2" y1="1167.5" x2="464.2" y2="1183.7" stroke="#000" stroke-width="4.2" stroke-linecap="butt"/>
<text transform="translate(464.2 1213.6) scale(1 1.05)" x="0" y="0" font-size="30" font-weight="bold" text-anchor="middle">6</text>
<line x1="561.3" y1="1167.5" x2="561.3" y2="1183.7" stroke="#000" stroke-width="4.2" stroke-linecap="butt"/>
<text transform="translate(561.3 1213.6) scale(1 1.05)" x="0" y="0" font-size="30" font-weight="bold" text-anchor="middle">8</text>
<line x1="658.4" y1="1167.5" x2="658.4" y2="1183.7" stroke="#000" stroke-width="4.2" stroke-linecap="butt"/>
<text transform="translate(658.4 1213.6) scale(1 1.05)" x="0" y="0" font-size="30" font-weight="bold" text-anchor="middle">12</text>
<text transform="translate(105.5 1178) scale(1 1.05)" x="0" y="0" font-size="30" font-weight="bold" text-anchor="end">0</text>
<text transform="translate(101 1108.3) scale(1 1.05)" x="0" y="0" font-size="30" font-weight="bold" text-anchor="end">15</text>
<text transform="translate(416 1264.2) scale(1 1.06)" x="0" y="0" font-size="31.5" font-weight="bold" text-anchor="middle">Week on Treatment</text>
<text transform="translate(44.4 973.4) rotate(-90) scale(1 1.06)" x="0" y="0" font-size="31.5" font-weight="bold" text-anchor="middle">Lean Mass (g)</text>
<polyline points="172.9,886.2 270,944.4 367.1,983.2 464.2,971.7 561.3,976.7 658.4,984.2" fill="none" stroke="#98DCA6" stroke-width="2.3" stroke-linejoin="round"/>
<path d="M172.9 869.2V876.6M172.9 895.8V903.2M165.5 869.2H180.3M165.5 903.2H180.3" stroke="#98DCA6" stroke-width="2.5" stroke-linecap="round" fill="none"/>
<path d="M270 929V934.8M270 954V959.8M262.6 929H277.4M262.6 959.8H277.4" stroke="#98DCA6" stroke-width="2.5" stroke-linecap="round" fill="none"/>
<path d="M367.1 973.2V973.6M367.1 992.8V993.2M359.7 973.2H374.5M359.7 993.2H374.5" stroke="#98DCA6" stroke-width="2.5" stroke-linecap="round" fill="none"/>
<path d="M464.2 960.7V962.1M464.2 981.3V982.7M456.8 960.7H471.6M456.8 982.7H471.6" stroke="#98DCA6" stroke-width="2.5" stroke-linecap="round" fill="none"/>
<path d="M561.3 965.7V967.1M561.3 986.3V987.7M553.9 965.7H568.7M553.9 987.7H568.7" stroke="#98DCA6" stroke-width="2.5" stroke-linecap="round" fill="none"/>
<path d="M658.4 973.2V974.6M658.4 993.8V995.2M651 973.2H665.8M651 995.2H665.8" stroke="#98DCA6" stroke-width="2.5" stroke-linecap="round" fill="none"/>
<circle cx="172.9" cy="886.2" r="7.7" fill="none" stroke="#98DCA6" stroke-width="4.2"/>
<circle cx="270" cy="944.4" r="7.7" fill="none" stroke="#98DCA6" stroke-width="4.2"/>
<circle cx="367.1" cy="983.2" r="7.7" fill="none" stroke="#98DCA6" stroke-width="4.2"/>
<circle cx="464.2" cy="971.7" r="7.7" fill="none" stroke="#98DCA6" stroke-width="4.2"/>
<circle cx="561.3" cy="976.7" r="7.7" fill="none" stroke="#98DCA6" stroke-width="4.2"/>
<circle cx="658.4" cy="984.2" r="7.7" fill="none" stroke="#98DCA6" stroke-width="4.2"/>
<polyline points="172.9,893.6 270,913.5 367.1,932 464.2,933.4 561.3,931 658.4,941.9" fill="none" stroke="#008F00" stroke-width="2.3" stroke-linejoin="round"/>
<path d="M172.9 884.6V886.6M172.9 900.6V902.6M165.5 884.6H180.3M165.5 902.6H180.3" stroke="#008F00" stroke-width="2.5" stroke-linecap="round" fill="none"/>
<path d="M270 904.5V906.5M270 920.5V922.5M262.6 904.5H277.4M262.6 922.5H277.4" stroke="#008F00" stroke-width="2.5" stroke-linecap="round" fill="none"/>
<path d="M367.1 922V925M367.1 939V942M359.7 922H374.5M359.7 942H374.5" stroke="#008F00" stroke-width="2.5" stroke-linecap="round" fill="none"/>
<path d="M464.2 923.4V926.4M464.2 940.4V943.4M456.8 923.4H471.6M456.8 943.4H471.6" stroke="#008F00" stroke-width="2.5" stroke-linecap="round" fill="none"/>
<path d="M561.3 921V924M561.3 938V941M553.9 921H568.7M553.9 941H568.7" stroke="#008F00" stroke-width="2.5" stroke-linecap="round" fill="none"/>
<path d="M658.4 931.9V934.9M658.4 948.9V951.9M651 931.9H665.8M651 951.9H665.8" stroke="#008F00" stroke-width="2.5" stroke-linecap="round" fill="none"/>
<circle cx="172.9" cy="893.6" r="7.6" fill="#008F00"/>
<circle cx="270" cy="913.5" r="7.6" fill="#008F00"/>
<circle cx="367.1" cy="932" r="7.6" fill="#008F00"/>
<circle cx="464.2" cy="933.4" r="7.6" fill="#008F00"/>
<circle cx="561.3" cy="931" r="7.6" fill="#008F00"/>
<circle cx="658.4" cy="941.9" r="7.6" fill="#008F00"/>
<polyline points="172.9,833 270,896.1 367.1,919.5 464.2,902.6 561.3,901.1 658.4,909.6" fill="none" stroke="#B3C2FF" stroke-width="2.3" stroke-linejoin="round"/>
<path d="M165.5 824H180.3M165.5 842H180.3" stroke="#B3C2FF" stroke-width="2.5" stroke-linecap="round" fill="none"/>
<path d="M270 886.1V886.5M270 905.7V906.1M262.6 886.1H277.4M262.6 906.1H277.4" stroke="#B3C2FF" stroke-width="2.5" stroke-linecap="round" fill="none"/>
<path d="M359.7 910.5H374.5M359.7 928.5H374.5" stroke="#B3C2FF" stroke-width="2.5" stroke-linecap="round" fill="none"/>
<path d="M456.8 893.6H471.6M456.8 911.6H471.6" stroke="#B3C2FF" stroke-width="2.5" stroke-linecap="round" fill="none"/>
<path d="M553.9 892.1H568.7M553.9 910.1H568.7" stroke="#B3C2FF" stroke-width="2.5" stroke-linecap="round" fill="none"/>
<path d="M651 900.6H665.8M651 918.6H665.8" stroke="#B3C2FF" stroke-width="2.5" stroke-linecap="round" fill="none"/>
<circle cx="172.9" cy="833" r="7.7" fill="none" stroke="#B3C2FF" stroke-width="4.2"/>
<circle cx="270" cy="896.1" r="7.7" fill="none" stroke="#B3C2FF" stroke-width="4.2"/>
<circle cx="367.1" cy="919.5" r="7.7" fill="none" stroke="#B3C2FF" stroke-width="4.2"/>
<circle cx="464.2" cy="902.6" r="7.7" fill="none" stroke="#B3C2FF" stroke-width="4.2"/>
<circle cx="561.3" cy="901.1" r="7.7" fill="none" stroke="#B3C2FF" stroke-width="4.2"/>
<circle cx="658.4" cy="909.6" r="7.7" fill="none" stroke="#B3C2FF" stroke-width="4.2"/>
<polyline points="172.9,840.4 270,868.8 367.1,884.2 464.2,884.2 561.3,877.2 658.4,882.2" fill="none" stroke="#0433FF" stroke-width="2.3" stroke-linejoin="round"/>
<path d="M172.9 821.8V833.4M172.9 847.4V859M165.5 821.8H180.3M165.5 859H180.3" stroke="#0433FF" stroke-width="2.5" stroke-linecap="round" fill="none"/>
<path d="M270 851.4V861.8M270 875.8V886.2M262.6 851.4H277.4M262.6 886.2H277.4" stroke="#0433FF" stroke-width="2.5" stroke-linecap="round" fill="none"/>
<path d="M367.1 868.5V877.2M367.1 891.2V899.9M359.7 868.5H374.5M359.7 899.9H374.5" stroke="#0433FF" stroke-width="2.5" stroke-linecap="round" fill="none"/>
<path d="M464.2 868.5V877.2M464.2 891.2V899.9M456.8 868.5H471.6M456.8 899.9H471.6" stroke="#0433FF" stroke-width="2.5" stroke-linecap="round" fill="none"/>
<path d="M561.3 861.5V870.2M561.3 884.2V892.9M553.9 861.5H568.7M553.9 892.9H568.7" stroke="#0433FF" stroke-width="2.5" stroke-linecap="round" fill="none"/>
<path d="M658.4 867V875.2M658.4 889.2V897.4M651 867H665.8M651 897.4H665.8" stroke="#0433FF" stroke-width="2.5" stroke-linecap="round" fill="none"/>
<circle cx="172.9" cy="840.4" r="7.6" fill="#0433FF"/>
<circle cx="270" cy="868.8" r="7.6" fill="#0433FF"/>
<circle cx="367.1" cy="884.2" r="7.6" fill="#0433FF"/>
<circle cx="464.2" cy="884.2" r="7.6" fill="#0433FF"/>
<circle cx="561.3" cy="877.2" r="7.6" fill="#0433FF"/>
<circle cx="658.4" cy="882.2" r="7.6" fill="#0433FF"/>
<text transform="translate(367.1 1012.2) scale(0.86 1)" x="0" y="12.1" font-size="35.5" font-weight="normal" text-anchor="middle" stroke="#000" stroke-width="0.6">#</text>
<text transform="translate(464.2 1003.8) scale(0.86 1)" x="0" y="12.1" font-size="35.5" font-weight="normal" text-anchor="middle" stroke="#000" stroke-width="0.6">#</text>
<text transform="translate(561.3 1012.2) scale(0.86 1)" x="0" y="12.1" font-size="35.5" font-weight="normal" text-anchor="middle" stroke="#000" stroke-width="0.6">#</text>
<text transform="translate(658.4 1033.6) scale(0.86 1)" x="0" y="12.1" font-size="35.5" font-weight="normal" text-anchor="middle" stroke="#000" stroke-width="0.6">#</text>
<line x1="295.2" y1="732.8" x2="338.2" y2="732.8" stroke="#0433FF" stroke-width="2.3" stroke-linecap="butt"/>
<circle cx="316.7" cy="732.8" r="7.6" fill="#0433FF"/>
<text transform="translate(361.3 742.5) scale(1 1.1)" x="0" y="0" font-size="26" font-weight="normal" text-anchor="start" stroke="#000" stroke-width="0.3">wt,CD</text>
<line x1="501.8" y1="732.8" x2="544.8" y2="732.8" stroke="#008F00" stroke-width="2.3" stroke-linecap="butt"/>
<circle cx="523.3" cy="732.8" r="7.6" fill="#008F00"/>
<text transform="translate(569 742.5) scale(1 1.1)" x="0" y="0" font-size="26" font-weight="bold" text-anchor="start">KO,CD</text>
<line x1="295.2" y1="779" x2="338.2" y2="779" stroke="#B3C2FF" stroke-width="2.3" stroke-linecap="butt"/>
<circle cx="316.7" cy="779" r="7.7" fill="none" stroke="#B3C2FF" stroke-width="4.2"/>
<text transform="translate(361.3 788.7) scale(1 1.1)" x="0" y="0" font-size="26" font-weight="normal" text-anchor="start" stroke="#000" stroke-width="0.3">wt,MR</text>
<line x1="501.8" y1="779" x2="544.8" y2="779" stroke="#98DCA6" stroke-width="2.3" stroke-linecap="butt"/>
<circle cx="523.3" cy="779" r="7.7" fill="none" stroke="#98DCA6" stroke-width="4.2"/>
<text transform="translate(569 788.7) scale(1 1.1)" x="0" y="0" font-size="26" font-weight="bold" text-anchor="start">KO,MR</text>
<path d="M295.3 711.2H436.6M508.1 711.2H648.5" stroke="#000" stroke-width="6.2" stroke-linecap="round" fill="none"/>
<path d="M366.6 711.2V685.5H576.9V711.2" stroke="#000" stroke-width="6.2" stroke-linejoin="miter" fill="none"/>
<text x="424.2" y="683.7" font-size="46.5" font-weight="bold" text-anchor="start" letter-spacing="-0.7" stroke="#000" stroke-width="0.6" stroke-linejoin="round" style="font-family:'DejaVu Sans',sans-serif">****</text>
<path d="M666.6 722.9V745.2M666.6 766.9V789.6" stroke="#000" stroke-width="6.4" stroke-linecap="round" fill="none"/>
<path d="M666.6 734H687V780H666.6" stroke="#000" stroke-width="6.4" stroke-linejoin="miter" fill="none"/>
<text x="696.9" y="781.6" font-size="46.5" font-weight="bold" text-anchor="start" letter-spacing="-0.7" stroke="#000" stroke-width="0.6" stroke-linejoin="round" style="font-family:'DejaVu Sans',sans-serif">*</text>
<text x="137" y="818.7" font-size="106" font-weight="normal" stroke="#fff" stroke-width="2.3" transform="rotate(-19 169.5 790.9)">&#9794;</text>
<text x="866.5" y="748" font-size="61" font-weight="bold" text-anchor="start">d</text>
<line x1="983" y1="778.4" x2="983" y2="1097" stroke="#000" stroke-width="4.2" stroke-linecap="butt"/>
<line x1="983" y1="1132.5" x2="983" y2="1167.3" stroke="#000" stroke-width="4.2" stroke-linecap="butt"/>
<line x1="971.3" y1="1087.5" x2="995" y2="1109.5" stroke="#000" stroke-width="4.2" stroke-linecap="butt"/>
<line x1="971.3" y1="1121" x2="995" y2="1143" stroke="#000" stroke-width="4.2" stroke-linecap="butt"/>
<line x1="961.3" y1="833.2" x2="983" y2="833.2" stroke="#000" stroke-width="4.2" stroke-linecap="butt"/>
<text transform="translate(959.9 843.7) scale(1 1.05)" x="0" y="0" font-size="30" font-weight="bold" text-anchor="end">25</text>
<line x1="961.3" y1="965" x2="983" y2="965" stroke="#000" stroke-width="4.2" stroke-linecap="butt"/>
<text transform="translate(959.9 975.5) scale(1 1.05)" x="0" y="0" font-size="30" font-weight="bold" text-anchor="end">20</text>
<line x1="966.2" y1="1167.3" x2="1565" y2="1167.3" stroke="#000" stroke-width="4.2" stroke-linecap="butt"/>
<line x1="1031.3" y1="1167.3" x2="1031.3" y2="1183.9" stroke="#000" stroke-width="4.2" stroke-linecap="butt"/>
<text transform="translate(1031.3 1212.8) scale(1 1.05)" x="0" y="0" font-size="30" font-weight="bold" text-anchor="middle">0</text>
<line x1="1128.3" y1="1167.3" x2="1128.3" y2="1183.9" stroke="#000" stroke-width="4.2" stroke-linecap="butt"/>
<text transform="translate(1128.3 1212.8) scale(1 1.05)" x="0" y="0" font-size="30" font-weight="bold" text-anchor="middle">2</text>
<line x1="1225.3" y1="1167.3" x2="1225.3" y2="1183.9" stroke="#000" stroke-width="4.2" stroke-linecap="butt"/>
<text transform="translate(1225.3 1212.8) scale(1 1.05)" x="0" y="0" font-size="30" font-weight="bold" text-anchor="middle">4</text>
<line x1="1322.2" y1="1167.3" x2="1322.2" y2="1183.9" stroke="#000" stroke-width="4.2" stroke-linecap="butt"/>
<text transform="translate(1322.2 1212.8) scale(1 1.05)" x="0" y="0" font-size="30" font-weight="bold" text-anchor="middle">6</text>
<line x1="1419.2" y1="1167.3" x2="1419.2" y2="1183.9" stroke="#000" stroke-width="4.2" stroke-linecap="butt"/>
<text transform="translate(1419.2 1212.8) scale(1 1.05)" x="0" y="0" font-size="30" font-weight="bold" text-anchor="middle">8</text>
<line x1="1516.2" y1="1167.3" x2="1516.2" y2="1183.9" stroke="#000" stroke-width="4.2" stroke-linecap="butt"/>
<text transform="translate(1516.2 1212.8) scale(1 1.05)" x="0" y="0" font-size="30" font-weight="bold" text-anchor="middle">12</text>
<text transform="translate(964.7 1177.8) scale(1 1.05)" x="0" y="0" font-size="30" font-weight="bold" text-anchor="end">0</text>
<text transform="translate(959.9 1108.9) scale(1 1.05)" x="0" y="0" font-size="30" font-weight="bold" text-anchor="end">15</text>
<text transform="translate(1274 1264.2) scale(1 1.06)" x="0" y="0" font-size="31.5" font-weight="bold" text-anchor="middle">Week on Treatment</text>
<text transform="translate(902.3 973.5) rotate(-90) scale(1 1.06)" x="0" y="0" font-size="31.5" font-weight="bold" text-anchor="middle">Lean Mass (g)</text>
<polyline points="1031.3,1067 1128.3,1086.4 1225.3,1096.4 1322.2,1082.3 1419.2,1079.6 1516.2,1087.3" fill="none" stroke="#E8BBFF" stroke-width="2.3" stroke-linejoin="round"/>
<path d="M1023.9 1058.6H1038.7M1023.9 1075.4H1038.7" stroke="#E8BBFF" stroke-width="2.5" stroke-linecap="round" fill="none"/>
<path d="M1120.9 1078.2H1135.7M1120.9 1094.6H1135.7" stroke="#E8BBFF" stroke-width="2.5" stroke-linecap="round" fill="none"/>
<path d="M1217.9 1088.2H1232.7M1217.9 1104.6H1232.7" stroke="#E8BBFF" stroke-width="2.5" stroke-linecap="round" fill="none"/>
<path d="M1314.8 1074.1H1329.6M1314.8 1090.5H1329.6" stroke="#E8BBFF" stroke-width="2.5" stroke-linecap="round" fill="none"/>
<path d="M1411.8 1071.2H1426.6M1411.8 1088H1426.6" stroke="#E8BBFF" stroke-width="2.5" stroke-linecap="round" fill="none"/>
<path d="M1508.8 1079.1H1523.6M1508.8 1095.5H1523.6" stroke="#E8BBFF" stroke-width="2.5" stroke-linecap="round" fill="none"/>
<circle cx="1031.3" cy="1067" r="7.7" fill="none" stroke="#E8BBFF" stroke-width="4.2"/>
<circle cx="1128.3" cy="1086.4" r="7.7" fill="none" stroke="#E8BBFF" stroke-width="4.2"/>
<circle cx="1225.3" cy="1096.4" r="7.7" fill="none" stroke="#E8BBFF" stroke-width="4.2"/>
<circle cx="1322.2" cy="1082.3" r="7.7" fill="none" stroke="#E8BBFF" stroke-width="4.2"/>
<circle cx="1419.2" cy="1079.6" r="7.7" fill="none" stroke="#E8BBFF" stroke-width="4.2"/>
<circle cx="1516.2" cy="1087.3" r="7.7" fill="none" stroke="#E8BBFF" stroke-width="4.2"/>
<polyline points="1031.3,1055.5 1128.3,1052.4 1225.3,1064.3 1322.2,1057.4 1419.2,1057.4 1516.2,1058.6" fill="none" stroke="#CC3BFF" stroke-width="2.3" stroke-linejoin="round"/>
<path d="M1031.3 1046.5V1048.5M1031.3 1062.5V1064.5M1023.9 1046.5H1038.7M1023.9 1064.5H1038.7" stroke="#CC3BFF" stroke-width="2.5" stroke-linecap="round" fill="none"/>
<path d="M1128.3 1043.4V1045.4M1128.3 1059.4V1061.4M1120.9 1043.4H1135.7M1120.9 1061.4H1135.7" stroke="#CC3BFF" stroke-width="2.5" stroke-linecap="round" fill="none"/>
<path d="M1225.3 1055.3V1057.3M1225.3 1071.3V1073.3M1217.9 1055.3H1232.7M1217.9 1073.3H1232.7" stroke="#CC3BFF" stroke-width="2.5" stroke-linecap="round" fill="none"/>
<path d="M1322.2 1048.4V1050.4M1322.2 1064.4V1066.4M1314.8 1048.4H1329.6M1314.8 1066.4H1329.6" stroke="#CC3BFF" stroke-width="2.5" stroke-linecap="round" fill="none"/>
<path d="M1419.2 1048.4V1050.4M1419.2 1064.4V1066.4M1411.8 1048.4H1426.6M1411.8 1066.4H1426.6" stroke="#CC3BFF" stroke-width="2.5" stroke-linecap="round" fill="none"/>
<path d="M1516.2 1049.6V1051.6M1516.2 1065.6V1067.6M1508.8 1049.6H1523.6M1508.8 1067.6H1523.6" stroke="#CC3BFF" stroke-width="2.5" stroke-linecap="round" fill="none"/>
<circle cx="1031.3" cy="1055.5" r="7.6" fill="#CC3BFF"/>
<circle cx="1128.3" cy="1052.4" r="7.6" fill="#CC3BFF"/>
<circle cx="1225.3" cy="1064.3" r="7.6" fill="#CC3BFF"/>
<circle cx="1322.2" cy="1057.4" r="7.6" fill="#CC3BFF"/>
<circle cx="1419.2" cy="1057.4" r="7.6" fill="#CC3BFF"/>
<circle cx="1516.2" cy="1058.6" r="7.6" fill="#CC3BFF"/>
<polyline points="1031.3,1024.1 1128.3,1047.8 1225.3,1063.1 1322.2,1046.7 1419.2,1040.2 1516.2,1050.9" fill="none" stroke="#FF9AA2" stroke-width="2.3" stroke-linejoin="round"/>
<path d="M1031.3 1007.1V1014.5M1031.3 1033.7V1041.1M1023.9 1007.1H1038.7M1023.9 1041.1H1038.7" stroke="#FF9AA2" stroke-width="2.5" stroke-linecap="round" fill="none"/>
<path d="M1128.3 1031.2V1038.2M1128.3 1057.4V1064.4M1120.9 1031.2H1135.7M1120.9 1064.4H1135.7" stroke="#FF9AA2" stroke-width="2.5" stroke-linecap="round" fill="none"/>
<path d="M1225.3 1049.1V1053.5M1225.3 1072.7V1077.1M1217.9 1049.1H1232.7M1217.9 1077.1H1232.7" stroke="#FF9AA2" stroke-width="2.5" stroke-linecap="round" fill="none"/>
<path d="M1322.2 1029.9V1037.1M1322.2 1056.3V1063.5M1314.8 1029.9H1329.6M1314.8 1063.5H1329.6" stroke="#FF9AA2" stroke-width="2.5" stroke-linecap="round" fill="none"/>
<path d="M1419.2 1024.2V1030.6M1419.2 1049.8V1056.2M1411.8 1024.2H1426.6M1411.8 1056.2H1426.6" stroke="#FF9AA2" stroke-width="2.5" stroke-linecap="round" fill="none"/>
<path d="M1516.2 1034.9V1041.3M1516.2 1060.5V1066.9M1508.8 1034.9H1523.6M1508.8 1066.9H1523.6" stroke="#FF9AA2" stroke-width="2.5" stroke-linecap="round" fill="none"/>
<circle cx="1031.3" cy="1024.1" r="7.7" fill="none" stroke="#FF9AA2" stroke-width="4.2"/>
<circle cx="1128.3" cy="1047.8" r="7.7" fill="none" stroke="#FF9AA2" stroke-width="4.2"/>
<circle cx="1225.3" cy="1063.1" r="7.7" fill="none" stroke="#FF9AA2" stroke-width="4.2"/>
<circle cx="1322.2" cy="1046.7" r="7.7" fill="none" stroke="#FF9AA2" stroke-width="4.2"/>
<circle cx="1419.2" cy="1040.2" r="7.7" fill="none" stroke="#FF9AA2" stroke-width="4.2"/>
<circle cx="1516.2" cy="1050.9" r="7.7" fill="none" stroke="#FF9AA2" stroke-width="4.2"/>
<polyline points="1031.3,1032.5 1128.3,1042.1 1225.3,1049.8 1322.2,1051.7 1419.2,1048.2 1516.2,1050.9" fill="none" stroke="#FF2600" stroke-width="2.3" stroke-linejoin="round"/>
<path d="M1031.3 1023.7V1025.5M1031.3 1039.5V1041.3M1023.9 1023.7H1038.7M1023.9 1041.3H1038.7" stroke="#FF2600" stroke-width="2.5" stroke-linecap="round" fill="none"/>
<path d="M1128.3 1032.1V1035.1M1128.3 1049.1V1052.1M1120.9 1032.1H1135.7M1120.9 1052.1H1135.7" stroke="#FF2600" stroke-width="2.5" stroke-linecap="round" fill="none"/>
<path d="M1225.3 1040.8V1042.8M1225.3 1056.8V1058.8M1217.9 1040.8H1232.7M1217.9 1058.8H1232.7" stroke="#FF2600" stroke-width="2.5" stroke-linecap="round" fill="none"/>
<path d="M1322.2 1042.7V1044.7M1322.2 1058.7V1060.7M1314.8 1042.7H1329.6M1314.8 1060.7H1329.6" stroke="#FF2600" stroke-width="2.5" stroke-linecap="round" fill="none"/>
<path d="M1419.2 1039.2V1041.2M1419.2 1055.2V1057.2M1411.8 1039.2H1426.6M1411.8 1057.2H1426.6" stroke="#FF2600" stroke-width="2.5" stroke-linecap="round" fill="none"/>
<path d="M1516.2 1041.9V1043.9M1516.2 1057.9V1059.9M1508.8 1041.9H1523.6M1508.8 1059.9H1523.6" stroke="#FF2600" stroke-width="2.5" stroke-linecap="round" fill="none"/>
<circle cx="1031.3" cy="1032.5" r="7.6" fill="#FF2600"/>
<circle cx="1128.3" cy="1042.1" r="7.6" fill="#FF2600"/>
<circle cx="1225.3" cy="1049.8" r="7.6" fill="#FF2600"/>
<circle cx="1322.2" cy="1051.7" r="7.6" fill="#FF2600"/>
<circle cx="1419.2" cy="1048.2" r="7.6" fill="#FF2600"/>
<circle cx="1516.2" cy="1050.9" r="7.6" fill="#FF2600"/>
<line x1="1171.8" y1="734.5" x2="1214.8" y2="734.5" stroke="#FF2600" stroke-width="2.3" stroke-linecap="butt"/>
<circle cx="1193.3" cy="734.5" r="7.6" fill="#FF2600"/>
<text transform="translate(1237.8 744.2) scale(1 1.1)" x="0" y="0" font-size="26" font-weight="normal" text-anchor="start" stroke="#000" stroke-width="0.3">wt,CD</text>
<line x1="1385.5" y1="734.5" x2="1428.5" y2="734.5" stroke="#CC3BFF" stroke-width="2.3" stroke-linecap="butt"/>
<circle cx="1407" cy="734.5" r="7.6" fill="#CC3BFF"/>
<text transform="translate(1452 744.2) scale(1 1.1)" x="0" y="0" font-size="26" font-weight="bold" text-anchor="start">KO,CD</text>
<line x1="1171.8" y1="780.5" x2="1214.8" y2="780.5" stroke="#FF9AA2" stroke-width="2.3" stroke-linecap="butt"/>
<circle cx="1193.3" cy="780.5" r="7.7" fill="none" stroke="#FF9AA2" stroke-width="4.2"/>
<text transform="translate(1237.8 790.2) scale(1 1.1)" x="0" y="0" font-size="26" font-weight="normal" text-anchor="start" stroke="#000" stroke-width="0.3">wt,MR</text>
<line x1="1385.5" y1="780.5" x2="1428.5" y2="780.5" stroke="#E8BBFF" stroke-width="2.3" stroke-linecap="butt"/>
<circle cx="1407" cy="780.5" r="7.7" fill="none" stroke="#E8BBFF" stroke-width="4.2"/>
<text transform="translate(1452 790.2) scale(1 1.1)" x="0" y="0" font-size="26" font-weight="bold" text-anchor="start">KO,MR</text>
<path d="M1171.5 712H1312.2M1390.9 712H1531.1" stroke="#000" stroke-width="6.2" stroke-linecap="round" fill="none"/>
<path d="M1241.3 712V686.5H1461V712" stroke="#000" stroke-width="6.2" stroke-linejoin="miter" fill="none"/>
<text x="1339" y="684.8" font-size="46.5" font-weight="bold" text-anchor="start" letter-spacing="-0.7" stroke="#000" stroke-width="0.6" stroke-linejoin="round" style="font-family:'DejaVu Sans',sans-serif">*</text>
<text x="993" y="816.4" font-size="102" font-weight="normal" stroke="#fff" stroke-width="2.4">&#9792;</text>
<text x="1.6" y="1382.8" font-size="61" font-weight="bold" text-anchor="start">e</text>
<line x1="122.9" y1="1413.4" x2="122.9" y2="1806.5" stroke="#000" stroke-width="4.2" stroke-linecap="butt"/>
<line x1="106.2" y1="1726.3" x2="122.9" y2="1726.3" stroke="#000" stroke-width="4.2" stroke-linecap="butt"/>
<text transform="translate(104.5 1736.8) scale(1 1.05)" x="0" y="0" font-size="30" font-weight="bold" text-anchor="end">2</text>
<line x1="106.2" y1="1648.6" x2="122.9" y2="1648.6" stroke="#000" stroke-width="4.2" stroke-linecap="butt"/>
<text transform="translate(104.5 1659.1) scale(1 1.05)" x="0" y="0" font-size="30" font-weight="bold" text-anchor="end">4</text>
<line x1="106.2" y1="1570.9" x2="122.9" y2="1570.9" stroke="#000" stroke-width="4.2" stroke-linecap="butt"/>
<text transform="translate(104.5 1581.4) scale(1 1.05)" x="0" y="0" font-size="30" font-weight="bold" text-anchor="end">6</text>
<line x1="106.2" y1="1493.2" x2="122.9" y2="1493.2" stroke="#000" stroke-width="4.2" stroke-linecap="butt"/>
<text transform="translate(104.5 1503.7) scale(1 1.05)" x="0" y="0" font-size="30" font-weight="bold" text-anchor="end">8</text>
<line x1="106.2" y1="1415.5" x2="122.9" y2="1415.5" stroke="#000" stroke-width="4.2" stroke-linecap="butt"/>
<text transform="translate(104.5 1426) scale(1 1.05)" x="0" y="0" font-size="30" font-weight="bold" text-anchor="end">10</text>
<line x1="106.4" y1="1804.4" x2="705.6" y2="1804.4" stroke="#000" stroke-width="4.2" stroke-linecap="butt"/>
<line x1="171.3" y1="1804.4" x2="171.3" y2="1820.7" stroke="#000" stroke-width="4.2" stroke-linecap="butt"/>
<text transform="translate(171.3 1849.8) scale(1 1.05)" x="0" y="0" font-size="30" font-weight="bold" text-anchor="middle">0</text>
<line x1="268.5" y1="1804.4" x2="268.5" y2="1820.7" stroke="#000" stroke-width="4.2" stroke-linecap="butt"/>
<text transform="translate(268.5 1849.8) scale(1 1.05)" x="0" y="0" font-size="30" font-weight="bold" text-anchor="middle">2</text>
<line x1="365.6" y1="1804.4" x2="365.6" y2="1820.7" stroke="#000" stroke-width="4.2" stroke-linecap="butt"/>
<text transform="translate(365.6 1849.8) scale(1 1.05)" x="0" y="0" font-size="30" font-weight="bold" text-anchor="middle">4</text>
<line x1="462.8" y1="1804.4" x2="462.8" y2="1820.7" stroke="#000" stroke-width="4.2" stroke-linecap="butt"/>
<text transform="translate(462.8 1849.8) scale(1 1.05)" x="0" y="0" font-size="30" font-weight="bold" text-anchor="middle">6</text>
<line x1="559.9" y1="1804.4" x2="559.9" y2="1820.7" stroke="#000" stroke-width="4.2" stroke-linecap="butt"/>
<text transform="translate(559.9 1849.8) scale(1 1.05)" x="0" y="0" font-size="30" font-weight="bold" text-anchor="middle">8</text>
<line x1="657.1" y1="1804.4" x2="657.1" y2="1820.7" stroke="#000" stroke-width="4.2" stroke-linecap="butt"/>
<text transform="translate(657.1 1849.8) scale(1 1.05)" x="0" y="0" font-size="30" font-weight="bold" text-anchor="middle">12</text>
<text transform="translate(104.4 1814.9) scale(1 1.05)" x="0" y="0" font-size="30" font-weight="bold" text-anchor="end">0</text>
<text transform="translate(414 1902.4) scale(1 1.06)" x="0" y="0" font-size="31.5" font-weight="bold" text-anchor="middle">Week on Treatment</text>
<text transform="translate(46 1610) rotate(-90) scale(1 1.06)" x="0" y="0" font-size="31.5" font-weight="bold" text-anchor="middle">Fat Mass (g)</text>
<polyline points="171.3,1685.6 268.5,1679.6 365.6,1669.6 462.8,1640.8 559.9,1648.3 657.1,1629.8" fill="none" stroke="#98DCA6" stroke-width="2.3" stroke-linejoin="round"/>
<path d="M171.3 1674.6V1676M171.3 1695.2V1696.6M163.9 1674.6H178.7M163.9 1696.6H178.7" stroke="#98DCA6" stroke-width="2.5" stroke-linecap="round" fill="none"/>
<path d="M268.5 1668.6V1670M268.5 1689.2V1690.6M261.1 1668.6H275.9M261.1 1690.6H275.9" stroke="#98DCA6" stroke-width="2.5" stroke-linecap="round" fill="none"/>
<path d="M365.6 1658.6V1660M365.6 1679.2V1680.6M358.2 1658.6H373M358.2 1680.6H373" stroke="#98DCA6" stroke-width="2.5" stroke-linecap="round" fill="none"/>
<path d="M462.8 1629.8V1631.2M462.8 1650.4V1651.8M455.4 1629.8H470.2M455.4 1651.8H470.2" stroke="#98DCA6" stroke-width="2.5" stroke-linecap="round" fill="none"/>
<path d="M552.5 1639.3H567.3M552.5 1657.3H567.3" stroke="#98DCA6" stroke-width="2.5" stroke-linecap="round" fill="none"/>
<path d="M657.1 1618.8V1620.2M657.1 1639.4V1640.8M649.7 1618.8H664.5M649.7 1640.8H664.5" stroke="#98DCA6" stroke-width="2.5" stroke-linecap="round" fill="none"/>
<circle cx="171.3" cy="1685.6" r="7.7" fill="none" stroke="#98DCA6" stroke-width="4.2"/>
<circle cx="268.5" cy="1679.6" r="7.7" fill="none" stroke="#98DCA6" stroke-width="4.2"/>
<circle cx="365.6" cy="1669.6" r="7.7" fill="none" stroke="#98DCA6" stroke-width="4.2"/>
<circle cx="462.8" cy="1640.8" r="7.7" fill="none" stroke="#98DCA6" stroke-width="4.2"/>
<circle cx="559.9" cy="1648.3" r="7.7" fill="none" stroke="#98DCA6" stroke-width="4.2"/>
<circle cx="657.1" cy="1629.8" r="7.7" fill="none" stroke="#98DCA6" stroke-width="4.2"/>
<polyline points="171.3,1655 268.5,1571 365.6,1584.9 462.8,1582.4 559.9,1578.4 657.1,1551.6" fill="none" stroke="#008F00" stroke-width="2.3" stroke-linejoin="round"/>
<path d="M171.3 1643V1648M171.3 1662V1667M163.9 1643H178.7M163.9 1667H178.7" stroke="#008F00" stroke-width="2.5" stroke-linecap="round" fill="none"/>
<path d="M268.5 1541V1564M268.5 1578V1601M261.1 1541H275.9M261.1 1601H275.9" stroke="#008F00" stroke-width="2.5" stroke-linecap="round" fill="none"/>
<path d="M365.6 1555.9V1577.9M365.6 1591.9V1613.9M358.2 1555.9H373M358.2 1613.9H373" stroke="#008F00" stroke-width="2.5" stroke-linecap="round" fill="none"/>
<path d="M462.8 1553.8V1575.4M462.8 1589.4V1611M455.4 1553.8H470.2M455.4 1611H470.2" stroke="#008F00" stroke-width="2.5" stroke-linecap="round" fill="none"/>
<path d="M559.9 1548.4V1571.4M559.9 1585.4V1608.4M552.5 1548.4H567.3M552.5 1608.4H567.3" stroke="#008F00" stroke-width="2.5" stroke-linecap="round" fill="none"/>
<path d="M657.1 1523.6V1544.6M657.1 1558.6V1579.6M649.7 1523.6H664.5M649.7 1579.6H664.5" stroke="#008F00" stroke-width="2.5" stroke-linecap="round" fill="none"/>
<circle cx="171.3" cy="1655" r="7.6" fill="#008F00"/>
<circle cx="268.5" cy="1571" r="7.6" fill="#008F00"/>
<circle cx="365.6" cy="1584.9" r="7.6" fill="#008F00"/>
<circle cx="462.8" cy="1582.4" r="7.6" fill="#008F00"/>
<circle cx="559.9" cy="1578.4" r="7.6" fill="#008F00"/>
<circle cx="657.1" cy="1551.6" r="7.6" fill="#008F00"/>
<polyline points="171.3,1646.5 268.5,1604.3 365.6,1599.8 462.8,1570 559.9,1566 657.1,1551" fill="none" stroke="#B3C2FF" stroke-width="2.3" stroke-linejoin="round"/>
<path d="M171.3 1635.5V1636.9M171.3 1656.1V1657.5M163.9 1635.5H178.7M163.9 1657.5H178.7" stroke="#B3C2FF" stroke-width="2.5" stroke-linecap="round" fill="none"/>
<path d="M268.5 1581.3V1594.7M268.5 1613.9V1627.3M261.1 1581.3H275.9M261.1 1627.3H275.9" stroke="#B3C2FF" stroke-width="2.5" stroke-linecap="round" fill="none"/>
<path d="M365.6 1575.2V1590.2M365.6 1609.4V1624.4M358.2 1575.2H373M358.2 1624.4H373" stroke="#B3C2FF" stroke-width="2.5" stroke-linecap="round" fill="none"/>
<path d="M462.8 1545V1560.4M462.8 1579.6V1595M455.4 1545H470.2M455.4 1595H470.2" stroke="#B3C2FF" stroke-width="2.5" stroke-linecap="round" fill="none"/>
<path d="M559.9 1539V1556.4M559.9 1575.6V1593M552.5 1539H567.3M552.5 1593H567.3" stroke="#B3C2FF" stroke-width="2.5" stroke-linecap="round" fill="none"/>
<path d="M657.1 1524V1541.4M657.1 1560.6V1578M649.7 1524H664.5M649.7 1578H664.5" stroke="#B3C2FF" stroke-width="2.5" stroke-linecap="round" fill="none"/>
<circle cx="171.3" cy="1646.5" r="7.7" fill="none" stroke="#B3C2FF" stroke-width="4.2"/>
<circle cx="268.5" cy="1604.3" r="7.7" fill="none" stroke="#B3C2FF" stroke-width="4.2"/>
<circle cx="365.6" cy="1599.8" r="7.7" fill="none" stroke="#B3C2FF" stroke-width="4.2"/>
<circle cx="462.8" cy="1570" r="7.7" fill="none" stroke="#B3C2FF" stroke-width="4.2"/>
<circle cx="559.9" cy="1566" r="7.7" fill="none" stroke="#B3C2FF" stroke-width="4.2"/>
<circle cx="657.1" cy="1551" r="7.7" fill="none" stroke="#B3C2FF" stroke-width="4.2"/>
<polyline points="171.3,1678.1 268.5,1562.5 365.6,1529.7 462.8,1498.8 559.9,1486.4 657.1,1479.9" fill="none" stroke="#0433FF" stroke-width="2.3" stroke-linejoin="round"/>
<path d="M171.3 1662.1V1671.1M171.3 1685.1V1694.1M163.9 1662.1H178.7M163.9 1694.1H178.7" stroke="#0433FF" stroke-width="2.5" stroke-linecap="round" fill="none"/>
<path d="M268.5 1542.5V1555.5M268.5 1569.5V1582.5M261.1 1542.5H275.9M261.1 1582.5H275.9" stroke="#0433FF" stroke-width="2.5" stroke-linecap="round" fill="none"/>
<path d="M365.6 1506.1V1522.7M365.6 1536.7V1553.3M358.2 1506.1H373M358.2 1553.3H373" stroke="#0433FF" stroke-width="2.5" stroke-linecap="round" fill="none"/>
<path d="M462.8 1470.9V1491.8M462.8 1505.8V1526.7M455.4 1470.9H470.2M455.4 1526.7H470.2" stroke="#0433FF" stroke-width="2.5" stroke-linecap="round" fill="none"/>
<path d="M559.9 1457.8V1479.4M559.9 1493.4V1515M552.5 1457.8H567.3M552.5 1515H567.3" stroke="#0433FF" stroke-width="2.5" stroke-linecap="round" fill="none"/>
<path d="M657.1 1448.3V1472.9M657.1 1486.9V1511.5M649.7 1448.3H664.5M649.7 1511.5H664.5" stroke="#0433FF" stroke-width="2.5" stroke-linecap="round" fill="none"/>
<circle cx="171.3" cy="1678.1" r="7.6" fill="#0433FF"/>
<circle cx="268.5" cy="1562.5" r="7.6" fill="#0433FF"/>
<circle cx="365.6" cy="1529.7" r="7.6" fill="#0433FF"/>
<circle cx="462.8" cy="1498.8" r="7.6" fill="#0433FF"/>
<circle cx="559.9" cy="1486.4" r="7.6" fill="#0433FF"/>
<circle cx="657.1" cy="1479.9" r="7.6" fill="#0433FF"/>
<text transform="translate(268.5 1714.4) scale(0.86 1)" x="0" y="12.1" font-size="35.5" font-weight="normal" text-anchor="middle" stroke="#000" stroke-width="0.6">#</text>
<text transform="translate(365.6 1709.4) scale(0.86 1)" x="0" y="12.1" font-size="35.5" font-weight="normal" text-anchor="middle" stroke="#000" stroke-width="0.6">#</text>
<text transform="translate(559.9 1695.5) scale(0.86 1)" x="0" y="12.1" font-size="35.5" font-weight="normal" text-anchor="middle" stroke="#000" stroke-width="0.6">#</text>
<text transform="translate(657.1 1685.6) scale(0.86 1)" x="0" y="12.1" font-size="35.5" font-weight="normal" text-anchor="middle" stroke="#000" stroke-width="0.6">#</text>
<line x1="295.9" y1="1368.5" x2="338.9" y2="1368.5" stroke="#0433FF" stroke-width="2.3" stroke-linecap="butt"/>
<circle cx="317.4" cy="1368.5" r="7.6" fill="#0433FF"/>
<text transform="translate(363.1 1378.2) scale(1 1.1)" x="0" y="0" font-size="26" font-weight="normal" text-anchor="start" stroke="#000" stroke-width="0.3">wt,CD</text>
<line x1="508.3" y1="1368.5" x2="551.3" y2="1368.5" stroke="#008F00" stroke-width="2.3" stroke-linecap="butt"/>
<circle cx="529.8" cy="1368.5" r="7.6" fill="#008F00"/>
<text transform="translate(574.5 1378.2) scale(1 1.1)" x="0" y="0" font-size="26" font-weight="bold" text-anchor="start">KO,CD</text>
<line x1="295.9" y1="1415.8" x2="338.9" y2="1415.8" stroke="#B3C2FF" stroke-width="2.3" stroke-linecap="butt"/>
<circle cx="317.4" cy="1415.8" r="7.7" fill="none" stroke="#B3C2FF" stroke-width="4.2"/>
<text transform="translate(363.1 1425.5) scale(1 1.1)" x="0" y="0" font-size="26" font-weight="normal" text-anchor="start" stroke="#000" stroke-width="0.3">wt,MR</text>
<line x1="508.3" y1="1415.8" x2="551.3" y2="1415.8" stroke="#98DCA6" stroke-width="2.3" stroke-linecap="butt"/>
<circle cx="529.8" cy="1415.8" r="7.7" fill="none" stroke="#98DCA6" stroke-width="4.2"/>
<text transform="translate(574.5 1425.5) scale(1 1.1)" x="0" y="0" font-size="26" font-weight="bold" text-anchor="start">KO,MR</text>
<path d="M296.9 1348.7H438.2M511.1 1348.7H652.9" stroke="#000" stroke-width="6.2" stroke-linecap="round" fill="none"/>
<path d="M367.3 1348.7V1323H581.5V1348.7" stroke="#000" stroke-width="6.2" stroke-linejoin="miter" fill="none"/>
<text x="462.2" y="1320.3" font-size="46.5" font-weight="bold" text-anchor="start" letter-spacing="-0.7" stroke="#000" stroke-width="0.6" stroke-linejoin="round" style="font-family:'DejaVu Sans',sans-serif">*</text>
<path d="M671.5 1360.4V1383.1M671.5 1404.8V1427.5" stroke="#000" stroke-width="6.4" stroke-linecap="round" fill="none"/>
<path d="M671.5 1371H693.3V1416.3H671.5" stroke="#000" stroke-width="6.4" stroke-linejoin="miter" fill="none"/>
<text x="703.1" y="1418.6" font-size="46.5" font-weight="bold" text-anchor="start" letter-spacing="-0.7" stroke="#000" stroke-width="0.6" stroke-linejoin="round" style="font-family:'DejaVu Sans',sans-serif">*</text>
<text x="135.7" y="1455.1" font-size="106" font-weight="normal" stroke="#fff" stroke-width="2.3" transform="rotate(-19 168.2 1427.3)">&#9794;</text>
<text x="874" y="1377.6" font-size="61" font-weight="bold" text-anchor="start">f</text>
<line x1="990" y1="1414.9" x2="990" y2="1808.1" stroke="#000" stroke-width="4.2" stroke-linecap="butt"/>
<line x1="973.7" y1="1728.2" x2="990" y2="1728.2" stroke="#000" stroke-width="4.2" stroke-linecap="butt"/>
<text transform="translate(970.7 1738.7) scale(1 1.05)" x="0" y="0" font-size="30" font-weight="bold" text-anchor="end">2</text>
<line x1="973.7" y1="1650.4" x2="990" y2="1650.4" stroke="#000" stroke-width="4.2" stroke-linecap="butt"/>
<text transform="translate(970.7 1660.9) scale(1 1.05)" x="0" y="0" font-size="30" font-weight="bold" text-anchor="end">4</text>
<line x1="973.7" y1="1572.6" x2="990" y2="1572.6" stroke="#000" stroke-width="4.2" stroke-linecap="butt"/>
<text transform="translate(970.7 1583.1) scale(1 1.05)" x="0" y="0" font-size="30" font-weight="bold" text-anchor="end">6</text>
<line x1="973.7" y1="1494.8" x2="990" y2="1494.8" stroke="#000" stroke-width="4.2" stroke-linecap="butt"/>
<text transform="translate(970.7 1505.3) scale(1 1.05)" x="0" y="0" font-size="30" font-weight="bold" text-anchor="end">8</text>
<line x1="973.7" y1="1417" x2="990" y2="1417" stroke="#000" stroke-width="4.2" stroke-linecap="butt"/>
<text transform="translate(970.7 1427.5) scale(1 1.05)" x="0" y="0" font-size="30" font-weight="bold" text-anchor="end">10</text>
<line x1="973.6" y1="1806" x2="1572" y2="1806" stroke="#000" stroke-width="4.2" stroke-linecap="butt"/>
<line x1="1037.8" y1="1806" x2="1037.8" y2="1822.7" stroke="#000" stroke-width="4.2" stroke-linecap="butt"/>
<text transform="translate(1037.8 1851.3) scale(1 1.05)" x="0" y="0" font-size="30" font-weight="bold" text-anchor="middle">0</text>
<line x1="1134.8" y1="1806" x2="1134.8" y2="1822.7" stroke="#000" stroke-width="4.2" stroke-linecap="butt"/>
<text transform="translate(1134.8 1851.3) scale(1 1.05)" x="0" y="0" font-size="30" font-weight="bold" text-anchor="middle">2</text>
<line x1="1231.7" y1="1806" x2="1231.7" y2="1822.7" stroke="#000" stroke-width="4.2" stroke-linecap="butt"/>
<text transform="translate(1231.7 1851.3) scale(1 1.05)" x="0" y="0" font-size="30" font-weight="bold" text-anchor="middle">4</text>
<line x1="1328.7" y1="1806" x2="1328.7" y2="1822.7" stroke="#000" stroke-width="4.2" stroke-linecap="butt"/>
<text transform="translate(1328.7 1851.3) scale(1 1.05)" x="0" y="0" font-size="30" font-weight="bold" text-anchor="middle">6</text>
<line x1="1425.6" y1="1806" x2="1425.6" y2="1822.7" stroke="#000" stroke-width="4.2" stroke-linecap="butt"/>
<text transform="translate(1425.6 1851.3) scale(1 1.05)" x="0" y="0" font-size="30" font-weight="bold" text-anchor="middle">8</text>
<line x1="1522.6" y1="1806" x2="1522.6" y2="1822.7" stroke="#000" stroke-width="4.2" stroke-linecap="butt"/>
<text transform="translate(1522.6 1851.3) scale(1 1.05)" x="0" y="0" font-size="30" font-weight="bold" text-anchor="middle">12</text>
<text transform="translate(970.7 1816.5) scale(1 1.05)" x="0" y="0" font-size="30" font-weight="bold" text-anchor="end">0</text>
<text transform="translate(1281 1903) scale(1 1.06)" x="0" y="0" font-size="31.5" font-weight="bold" text-anchor="middle">Week on Treatment</text>
<text transform="translate(914.5 1611) rotate(-90) scale(1 1.06)" x="0" y="0" font-size="31.5" font-weight="bold" text-anchor="middle">Fat Mass (g)</text>
<polyline points="1037.8,1703.5 1134.8,1676.8 1231.7,1668.2 1328.7,1656.6 1425.6,1656.6 1522.6,1643" fill="none" stroke="#E8BBFF" stroke-width="2.3" stroke-linejoin="round"/>
<path d="M1030.4 1695.5H1045.2M1030.4 1711.5H1045.2" stroke="#E8BBFF" stroke-width="2.5" stroke-linecap="round" fill="none"/>
<path d="M1127.4 1668.8H1142.2M1127.4 1684.8H1142.2" stroke="#E8BBFF" stroke-width="2.5" stroke-linecap="round" fill="none"/>
<path d="M1224.3 1659.2H1239.1M1224.3 1677.2H1239.1" stroke="#E8BBFF" stroke-width="2.5" stroke-linecap="round" fill="none"/>
<path d="M1321.3 1647.6H1336.1M1321.3 1665.6H1336.1" stroke="#E8BBFF" stroke-width="2.5" stroke-linecap="round" fill="none"/>
<path d="M1418.2 1647.6H1433M1418.2 1665.6H1433" stroke="#E8BBFF" stroke-width="2.5" stroke-linecap="round" fill="none"/>
<path d="M1515.2 1634H1530M1515.2 1652H1530" stroke="#E8BBFF" stroke-width="2.5" stroke-linecap="round" fill="none"/>
<circle cx="1037.8" cy="1703.5" r="7.7" fill="none" stroke="#E8BBFF" stroke-width="4.2"/>
<circle cx="1134.8" cy="1676.8" r="7.7" fill="none" stroke="#E8BBFF" stroke-width="4.2"/>
<circle cx="1231.7" cy="1668.2" r="7.7" fill="none" stroke="#E8BBFF" stroke-width="4.2"/>
<circle cx="1328.7" cy="1656.6" r="7.7" fill="none" stroke="#E8BBFF" stroke-width="4.2"/>
<circle cx="1425.6" cy="1656.6" r="7.7" fill="none" stroke="#E8BBFF" stroke-width="4.2"/>
<circle cx="1522.6" cy="1643" r="7.7" fill="none" stroke="#E8BBFF" stroke-width="4.2"/>
<polyline points="1037.8,1692.4 1134.8,1661.6 1231.7,1646.3 1328.7,1617.5 1425.6,1632.6 1522.6,1636.2" fill="none" stroke="#CC3BFF" stroke-width="2.3" stroke-linejoin="round"/>
<path d="M1037.8 1684.4V1685.4M1037.8 1699.4V1700.4M1030.4 1684.4H1045.2M1030.4 1700.4H1045.2" stroke="#CC3BFF" stroke-width="2.5" stroke-linecap="round" fill="none"/>
<path d="M1134.8 1651.6V1654.6M1134.8 1668.6V1671.6M1127.4 1651.6H1142.2M1127.4 1671.6H1142.2" stroke="#CC3BFF" stroke-width="2.5" stroke-linecap="round" fill="none"/>
<path d="M1231.7 1634.3V1639.3M1231.7 1653.3V1658.3M1224.3 1634.3H1239.1M1224.3 1658.3H1239.1" stroke="#CC3BFF" stroke-width="2.5" stroke-linecap="round" fill="none"/>
<path d="M1328.7 1605.5V1610.5M1328.7 1624.5V1629.5M1321.3 1605.5H1336.1M1321.3 1629.5H1336.1" stroke="#CC3BFF" stroke-width="2.5" stroke-linecap="round" fill="none"/>
<path d="M1425.6 1620.6V1625.6M1425.6 1639.6V1644.6M1418.2 1620.6H1433M1418.2 1644.6H1433" stroke="#CC3BFF" stroke-width="2.5" stroke-linecap="round" fill="none"/>
<path d="M1522.6 1624.2V1629.2M1522.6 1643.2V1648.2M1515.2 1624.2H1530M1515.2 1648.2H1530" stroke="#CC3BFF" stroke-width="2.5" stroke-linecap="round" fill="none"/>
<circle cx="1037.8" cy="1692.4" r="7.6" fill="#CC3BFF"/>
<circle cx="1134.8" cy="1661.6" r="7.6" fill="#CC3BFF"/>
<circle cx="1231.7" cy="1646.3" r="7.6" fill="#CC3BFF"/>
<circle cx="1328.7" cy="1617.5" r="7.6" fill="#CC3BFF"/>
<circle cx="1425.6" cy="1632.6" r="7.6" fill="#CC3BFF"/>
<circle cx="1522.6" cy="1636.2" r="7.6" fill="#CC3BFF"/>
<polyline points="1037.8,1706 1134.8,1646.3 1231.7,1616 1328.7,1604.3 1425.6,1612 1522.6,1590.7" fill="none" stroke="#FF9AA2" stroke-width="2.3" stroke-linejoin="round"/>
<path d="M1037.8 1696V1696.4M1037.8 1715.6V1716M1030.4 1696H1045.2M1030.4 1716H1045.2" stroke="#FF9AA2" stroke-width="2.5" stroke-linecap="round" fill="none"/>
<path d="M1134.8 1629.3V1636.7M1134.8 1655.9V1663.3M1127.4 1629.3H1142.2M1127.4 1663.3H1142.2" stroke="#FF9AA2" stroke-width="2.5" stroke-linecap="round" fill="none"/>
<path d="M1231.7 1596V1606.4M1231.7 1625.6V1636M1224.3 1596H1239.1M1224.3 1636H1239.1" stroke="#FF9AA2" stroke-width="2.5" stroke-linecap="round" fill="none"/>
<path d="M1328.7 1582.3V1594.7M1328.7 1613.9V1626.3M1321.3 1582.3H1336.1M1321.3 1626.3H1336.1" stroke="#FF9AA2" stroke-width="2.5" stroke-linecap="round" fill="none"/>
<path d="M1425.6 1592V1602.4M1425.6 1621.6V1632M1418.2 1592H1433M1418.2 1632H1433" stroke="#FF9AA2" stroke-width="2.5" stroke-linecap="round" fill="none"/>
<path d="M1522.6 1566.7V1581.1M1522.6 1600.3V1614.7M1515.2 1566.7H1530M1515.2 1614.7H1530" stroke="#FF9AA2" stroke-width="2.5" stroke-linecap="round" fill="none"/>
<circle cx="1037.8" cy="1706" r="7.7" fill="none" stroke="#FF9AA2" stroke-width="4.2"/>
<circle cx="1134.8" cy="1646.3" r="7.7" fill="none" stroke="#FF9AA2" stroke-width="4.2"/>
<circle cx="1231.7" cy="1616" r="7.7" fill="none" stroke="#FF9AA2" stroke-width="4.2"/>
<circle cx="1328.7" cy="1604.3" r="7.7" fill="none" stroke="#FF9AA2" stroke-width="4.2"/>
<circle cx="1425.6" cy="1612" r="7.7" fill="none" stroke="#FF9AA2" stroke-width="4.2"/>
<circle cx="1522.6" cy="1590.7" r="7.7" fill="none" stroke="#FF9AA2" stroke-width="4.2"/>
<polyline points="1037.8,1680.8 1134.8,1623.5 1231.7,1595.8 1328.7,1588.2 1425.6,1585.7 1522.6,1603.3" fill="none" stroke="#FF2600" stroke-width="2.3" stroke-linejoin="round"/>
<path d="M1037.8 1660.8V1673.8M1037.8 1687.8V1700.8M1030.4 1660.8H1045.2M1030.4 1700.8H1045.2" stroke="#FF2600" stroke-width="2.5" stroke-linecap="round" fill="none"/>
<path d="M1134.8 1600V1616.5M1134.8 1630.5V1647M1127.4 1600H1142.2M1127.4 1647H1142.2" stroke="#FF2600" stroke-width="2.5" stroke-linecap="round" fill="none"/>
<path d="M1231.7 1572.1V1588.8M1231.7 1602.8V1619.5M1224.3 1572.1H1239.1M1224.3 1619.5H1239.1" stroke="#FF2600" stroke-width="2.5" stroke-linecap="round" fill="none"/>
<path d="M1328.7 1562.2V1581.2M1328.7 1595.2V1614.2M1321.3 1562.2H1336.1M1321.3 1614.2H1336.1" stroke="#FF2600" stroke-width="2.5" stroke-linecap="round" fill="none"/>
<path d="M1425.6 1557.7V1578.7M1425.6 1592.7V1613.7M1418.2 1557.7H1433M1418.2 1613.7H1433" stroke="#FF2600" stroke-width="2.5" stroke-linecap="round" fill="none"/>
<path d="M1522.6 1577.3V1596.3M1522.6 1610.3V1629.3M1515.2 1577.3H1530M1515.2 1629.3H1530" stroke="#FF2600" stroke-width="2.5" stroke-linecap="round" fill="none"/>
<circle cx="1037.8" cy="1680.8" r="7.6" fill="#FF2600"/>
<circle cx="1134.8" cy="1623.5" r="7.6" fill="#FF2600"/>
<circle cx="1231.7" cy="1595.8" r="7.6" fill="#FF2600"/>
<circle cx="1328.7" cy="1588.2" r="7.6" fill="#FF2600"/>
<circle cx="1425.6" cy="1585.7" r="7.6" fill="#FF2600"/>
<circle cx="1522.6" cy="1603.3" r="7.6" fill="#FF2600"/>
<line x1="1163.2" y1="1375" x2="1206.2" y2="1375" stroke="#FF2600" stroke-width="2.3" stroke-linecap="butt"/>
<circle cx="1184.7" cy="1375" r="7.6" fill="#FF2600"/>
<text transform="translate(1228.7 1384.7) scale(1 1.1)" x="0" y="0" font-size="26" font-weight="normal" text-anchor="start" stroke="#000" stroke-width="0.3">wt,CD</text>
<line x1="1376.4" y1="1375" x2="1419.4" y2="1375" stroke="#CC3BFF" stroke-width="2.3" stroke-linecap="butt"/>
<circle cx="1397.9" cy="1375" r="7.6" fill="#CC3BFF"/>
<text transform="translate(1442.3 1384.7) scale(1 1.1)" x="0" y="0" font-size="26" font-weight="bold" text-anchor="start">KO,CD</text>
<line x1="1163.2" y1="1420.5" x2="1206.2" y2="1420.5" stroke="#FF9AA2" stroke-width="2.3" stroke-linecap="butt"/>
<circle cx="1184.7" cy="1420.5" r="7.7" fill="none" stroke="#FF9AA2" stroke-width="4.2"/>
<text transform="translate(1228.7 1430.2) scale(1 1.1)" x="0" y="0" font-size="26" font-weight="normal" text-anchor="start" stroke="#000" stroke-width="0.3">wt,MR</text>
<line x1="1376.4" y1="1420.5" x2="1419.4" y2="1420.5" stroke="#E8BBFF" stroke-width="2.3" stroke-linecap="butt"/>
<circle cx="1397.9" cy="1420.5" r="7.7" fill="none" stroke="#E8BBFF" stroke-width="4.2"/>
<text transform="translate(1442.3 1430.2) scale(1 1.1)" x="0" y="0" font-size="26" font-weight="bold" text-anchor="start">KO,MR</text>
<path d="M1161.5 1352.7H1302.2M1378.8 1352.7H1520.5" stroke="#000" stroke-width="6.2" stroke-linecap="round" fill="none"/>
<path d="M1231.2 1352.7V1327H1451V1352.7" stroke="#000" stroke-width="6.2" stroke-linejoin="miter" fill="none"/>
<text x="1328.9" y="1324.8" font-size="46.5" font-weight="bold" text-anchor="start" letter-spacing="-0.7" stroke="#000" stroke-width="0.6" stroke-linejoin="round" style="font-family:'DejaVu Sans',sans-serif">*</text>
<text x="999.5" y="1453.4" font-size="102" font-weight="normal" stroke="#fff" stroke-width="2.4">&#9792;</text>
<text x="0.1" y="1956" font-size="61" font-weight="bold" text-anchor="start">g</text>
<line x1="128.2" y1="1995.3" x2="128.2" y2="2387.1" stroke="#000" stroke-width="4.2" stroke-linecap="butt"/>
<line x1="111.2" y1="2288.1" x2="128.2" y2="2288.1" stroke="#000" stroke-width="4.2" stroke-linecap="butt"/>
<text transform="translate(109.4 2298.6) scale(1 1.05)" x="0" y="0" font-size="30" font-weight="bold" text-anchor="end">0.05</text>
<line x1="111.2" y1="2191.2" x2="128.2" y2="2191.2" stroke="#000" stroke-width="4.2" stroke-linecap="butt"/>
<text transform="translate(109.4 2201.7) scale(1 1.05)" x="0" y="0" font-size="30" font-weight="bold" text-anchor="end">0.10</text>
<line x1="111.2" y1="2094.3" x2="128.2" y2="2094.3" stroke="#000" stroke-width="4.2" stroke-linecap="butt"/>
<text transform="translate(109.4 2104.8) scale(1 1.05)" x="0" y="0" font-size="30" font-weight="bold" text-anchor="end">0.15</text>
<line x1="111.2" y1="1997.4" x2="128.2" y2="1997.4" stroke="#000" stroke-width="4.2" stroke-linecap="butt"/>
<text transform="translate(109.4 2007.9) scale(1 1.05)" x="0" y="0" font-size="30" font-weight="bold" text-anchor="end">0.20</text>
<line x1="112" y1="2385" x2="708.9" y2="2385" stroke="#000" stroke-width="4.2" stroke-linecap="butt"/>
<line x1="152.3" y1="2385" x2="152.3" y2="2401.7" stroke="#000" stroke-width="4.2" stroke-linecap="butt"/>
<text transform="translate(152.3 2431.2) scale(1 1.05)" x="0" y="0" font-size="30" font-weight="bold" text-anchor="middle">1</text>
<line x1="200.8" y1="2385" x2="200.8" y2="2401.7" stroke="#000" stroke-width="4.2" stroke-linecap="butt"/>
<text transform="translate(200.8 2431.2) scale(1 1.05)" x="0" y="0" font-size="30" font-weight="bold" text-anchor="middle">2</text>
<line x1="249.3" y1="2385" x2="249.3" y2="2401.7" stroke="#000" stroke-width="4.2" stroke-linecap="butt"/>
<text transform="translate(249.3 2431.2) scale(1 1.05)" x="0" y="0" font-size="30" font-weight="bold" text-anchor="middle">3</text>
<line x1="297.7" y1="2385" x2="297.7" y2="2401.7" stroke="#000" stroke-width="4.2" stroke-linecap="butt"/>
<text transform="translate(297.7 2431.2) scale(1 1.05)" x="0" y="0" font-size="30" font-weight="bold" text-anchor="middle">4</text>
<line x1="346.2" y1="2385" x2="346.2" y2="2401.7" stroke="#000" stroke-width="4.2" stroke-linecap="butt"/>
<text transform="translate(346.2 2431.2) scale(1 1.05)" x="0" y="0" font-size="30" font-weight="bold" text-anchor="middle">5</text>
<line x1="394.7" y1="2385" x2="394.7" y2="2401.7" stroke="#000" stroke-width="4.2" stroke-linecap="butt"/>
<text transform="translate(394.7 2431.2) scale(1 1.05)" x="0" y="0" font-size="30" font-weight="bold" text-anchor="middle">6</text>
<line x1="443.2" y1="2385" x2="443.2" y2="2401.7" stroke="#000" stroke-width="4.2" stroke-linecap="butt"/>
<text transform="translate(443.2 2431.2) scale(1 1.05)" x="0" y="0" font-size="30" font-weight="bold" text-anchor="middle">7</text>
<line x1="491.7" y1="2385" x2="491.7" y2="2401.7" stroke="#000" stroke-width="4.2" stroke-linecap="butt"/>
<text transform="translate(491.7 2431.2) scale(1 1.05)" x="0" y="0" font-size="30" font-weight="bold" text-anchor="middle">8</text>
<line x1="540.1" y1="2385" x2="540.1" y2="2401.7" stroke="#000" stroke-width="4.2" stroke-linecap="butt"/>
<text transform="translate(540.1 2431.2) scale(1 1.05)" x="0" y="0" font-size="30" font-weight="bold" text-anchor="middle">9</text>
<line x1="588.6" y1="2385" x2="588.6" y2="2401.7" stroke="#000" stroke-width="4.2" stroke-linecap="butt"/>
<text transform="translate(588.6 2431.2) scale(1 1.05)" x="0" y="0" font-size="30" font-weight="bold" text-anchor="middle">10</text>
<line x1="637.1" y1="2385" x2="637.1" y2="2401.7" stroke="#000" stroke-width="4.2" stroke-linecap="butt"/>
<text transform="translate(637.1 2431.2) scale(1 1.05)" x="0" y="0" font-size="30" font-weight="bold" text-anchor="middle">11</text>
<line x1="685.6" y1="2385" x2="685.6" y2="2401.7" stroke="#000" stroke-width="4.2" stroke-linecap="butt"/>
<text transform="translate(685.6 2431.2) scale(1 1.05)" x="0" y="0" font-size="30" font-weight="bold" text-anchor="middle">12</text>
<text transform="translate(109.4 2395.5) scale(1 1.05)" x="0" y="0" font-size="30" font-weight="bold" text-anchor="end">0.00</text>
<text transform="translate(419 2481.6) scale(1 1.06)" x="0" y="0" font-size="31.5" font-weight="bold" text-anchor="middle">Week on Treatment</text>
<text transform="translate(23.9 2190.7) rotate(-90) scale(1 1.06)" x="0" y="0" font-size="31.0" font-weight="bold" text-anchor="middle">g Food / g Mouse / Day</text>
<polyline points="152.3,2171.8 200.8,2154.6 249.3,2155.8 297.7,2199.8 346.2,2162.3 394.7,2184.1 443.2,2177.6 491.7,2196.7 540.1,2166.1 588.6,2169.2 637.1,2175.7 685.6,2182.6" fill="none" stroke="#98DCA6" stroke-width="2.3" stroke-linejoin="round"/>
<path d="M152.3 2151.8V2162.2M152.3 2181.4V2191.8M144.9 2151.8H159.7M144.9 2191.8H159.7" stroke="#98DCA6" stroke-width="2.5" stroke-linecap="round" fill="none"/>
<path d="M200.8 2136.2V2145M200.8 2164.2V2173M193.4 2136.2H208.2M193.4 2173H208.2" stroke="#98DCA6" stroke-width="2.5" stroke-linecap="round" fill="none"/>
<path d="M241.9 2146.8H256.7M241.9 2164.8H256.7" stroke="#98DCA6" stroke-width="2.5" stroke-linecap="round" fill="none"/>
<path d="M297.7 2180.1V2190.2M297.7 2209.4V2219.5M290.3 2180.1H305.1M290.3 2219.5H305.1" stroke="#98DCA6" stroke-width="2.5" stroke-linecap="round" fill="none"/>
<path d="M346.2 2142.3V2152.7M346.2 2171.9V2182.3M338.8 2142.3H353.6M338.8 2182.3H353.6" stroke="#98DCA6" stroke-width="2.5" stroke-linecap="round" fill="none"/>
<path d="M394.7 2170.1V2174.5M394.7 2193.7V2198.1M387.3 2170.1H402.1M387.3 2198.1H402.1" stroke="#98DCA6" stroke-width="2.5" stroke-linecap="round" fill="none"/>
<path d="M443.2 2161.6V2168M443.2 2187.2V2193.6M435.8 2161.6H450.6M435.8 2193.6H450.6" stroke="#98DCA6" stroke-width="2.5" stroke-linecap="round" fill="none"/>
<path d="M491.7 2178.1V2187.1M491.7 2206.3V2215.3M484.3 2178.1H499.1M484.3 2215.3H499.1" stroke="#98DCA6" stroke-width="2.5" stroke-linecap="round" fill="none"/>
<path d="M540.1 2142.6V2156.5M540.1 2175.7V2189.6M532.7 2142.6H547.5M532.7 2189.6H547.5" stroke="#98DCA6" stroke-width="2.5" stroke-linecap="round" fill="none"/>
<path d="M588.6 2156.2V2159.6M588.6 2178.8V2182.2M581.2 2156.2H596M581.2 2182.2H596" stroke="#98DCA6" stroke-width="2.5" stroke-linecap="round" fill="none"/>
<path d="M637.1 2152.7V2166.1M637.1 2185.3V2198.7M629.7 2152.7H644.5M629.7 2198.7H644.5" stroke="#98DCA6" stroke-width="2.5" stroke-linecap="round" fill="none"/>
<path d="M678.2 2174H693M678.2 2191.2H693" stroke="#98DCA6" stroke-width="2.5" stroke-linecap="round" fill="none"/>
<circle cx="152.3" cy="2171.8" r="7.7" fill="none" stroke="#98DCA6" stroke-width="4.2"/>
<circle cx="200.8" cy="2154.6" r="7.7" fill="none" stroke="#98DCA6" stroke-width="4.2"/>
<circle cx="249.3" cy="2155.8" r="7.7" fill="none" stroke="#98DCA6" stroke-width="4.2"/>
<circle cx="297.7" cy="2199.8" r="7.7" fill="none" stroke="#98DCA6" stroke-width="4.2"/>
<circle cx="346.2" cy="2162.3" r="7.7" fill="none" stroke="#98DCA6" stroke-width="4.2"/>
<circle cx="394.7" cy="2184.1" r="7.7" fill="none" stroke="#98DCA6" stroke-width="4.2"/>
<circle cx="443.2" cy="2177.6" r="7.7" fill="none" stroke="#98DCA6" stroke-width="4.2"/>
<circle cx="491.7" cy="2196.7" r="7.7" fill="none" stroke="#98DCA6" stroke-width="4.2"/>
<circle cx="540.1" cy="2166.1" r="7.7" fill="none" stroke="#98DCA6" stroke-width="4.2"/>
<circle cx="588.6" cy="2169.2" r="7.7" fill="none" stroke="#98DCA6" stroke-width="4.2"/>
<circle cx="637.1" cy="2175.7" r="7.7" fill="none" stroke="#98DCA6" stroke-width="4.2"/>
<circle cx="685.6" cy="2182.6" r="7.7" fill="none" stroke="#98DCA6" stroke-width="4.2"/>
<polyline points="152.3,2184.1 200.8,2226.6 249.3,2226.6 297.7,2230.4 346.2,2221.6 394.7,2222.4 443.2,2228.1 491.7,2222.4 540.1,2224.7 588.6,2209 637.1,2217.8 685.6,2231.2" fill="none" stroke="#008F00" stroke-width="2.3" stroke-linejoin="round"/>
<path d="M152.3 2167.1V2177.1M152.3 2191.1V2201.1M144.9 2167.1H159.7M144.9 2201.1H159.7" stroke="#008F00" stroke-width="2.5" stroke-linecap="round" fill="none"/>
<circle cx="152.3" cy="2184.1" r="7.6" fill="#008F00"/>
<circle cx="200.8" cy="2226.6" r="7.6" fill="#008F00"/>
<circle cx="249.3" cy="2226.6" r="7.6" fill="#008F00"/>
<circle cx="297.7" cy="2230.4" r="7.6" fill="#008F00"/>
<circle cx="346.2" cy="2221.6" r="7.6" fill="#008F00"/>
<circle cx="394.7" cy="2222.4" r="7.6" fill="#008F00"/>
<circle cx="443.2" cy="2228.1" r="7.6" fill="#008F00"/>
<circle cx="491.7" cy="2222.4" r="7.6" fill="#008F00"/>
<circle cx="540.1" cy="2224.7" r="7.6" fill="#008F00"/>
<circle cx="588.6" cy="2209" r="7.6" fill="#008F00"/>
<circle cx="637.1" cy="2217.8" r="7.6" fill="#008F00"/>
<circle cx="685.6" cy="2231.2" r="7.6" fill="#008F00"/>
<polyline points="152.3,2212 200.8,2192.9 249.3,2168.8 297.7,2182.6 346.2,2152.7 394.7,2165 443.2,2164.2 491.7,2169.2 540.1,2155.8 588.6,2156.5 637.1,2167.3 685.6,2191.7" fill="none" stroke="#B3C2FF" stroke-width="2.3" stroke-linejoin="round"/>
<path d="M241.9 2159.2H256.7M241.9 2178.4H256.7" stroke="#B3C2FF" stroke-width="2.5" stroke-linecap="round" fill="none"/>
<path d="M290.3 2174H305.1M290.3 2191.2H305.1" stroke="#B3C2FF" stroke-width="2.5" stroke-linecap="round" fill="none"/>
<path d="M338.8 2144.1H353.6M338.8 2161.3H353.6" stroke="#B3C2FF" stroke-width="2.5" stroke-linecap="round" fill="none"/>
<path d="M532.7 2147.2H547.5M532.7 2164.4H547.5" stroke="#B3C2FF" stroke-width="2.5" stroke-linecap="round" fill="none"/>
<path d="M629.7 2158.7H644.5M629.7 2175.9H644.5" stroke="#B3C2FF" stroke-width="2.5" stroke-linecap="round" fill="none"/>
<circle cx="152.3" cy="2212" r="7.7" fill="none" stroke="#B3C2FF" stroke-width="4.2"/>
<circle cx="200.8" cy="2192.9" r="7.7" fill="none" stroke="#B3C2FF" stroke-width="4.2"/>
<circle cx="249.3" cy="2168.8" r="7.7" fill="none" stroke="#B3C2FF" stroke-width="4.2"/>
<circle cx="297.7" cy="2182.6" r="7.7" fill="none" stroke="#B3C2FF" stroke-width="4.2"/>
<circle cx="346.2" cy="2152.7" r="7.7" fill="none" stroke="#B3C2FF" stroke-width="4.2"/>
<circle cx="394.7" cy="2165" r="7.7" fill="none" stroke="#B3C2FF" stroke-width="4.2"/>
<circle cx="443.2" cy="2164.2" r="7.7" fill="none" stroke="#B3C2FF" stroke-width="4.2"/>
<circle cx="491.7" cy="2169.2" r="7.7" fill="none" stroke="#B3C2FF" stroke-width="4.2"/>
<circle cx="540.1" cy="2155.8" r="7.7" fill="none" stroke="#B3C2FF" stroke-width="4.2"/>
<circle cx="588.6" cy="2156.5" r="7.7" fill="none" stroke="#B3C2FF" stroke-width="4.2"/>
<circle cx="637.1" cy="2167.3" r="7.7" fill="none" stroke="#B3C2FF" stroke-width="4.2"/>
<circle cx="685.6" cy="2191.7" r="7.7" fill="none" stroke="#B3C2FF" stroke-width="4.2"/>
<polyline points="152.3,2213.2 200.8,2220.8 249.3,2224.7 297.7,2235 346.2,2232.3 394.7,2236.1 443.2,2240 491.7,2261.8 540.1,2236.1 588.6,2236.9 637.1,2226.6 685.6,2249.5" fill="none" stroke="#0433FF" stroke-width="2.3" stroke-linejoin="round"/>
<path d="M152.3 2203.2V2206.2M152.3 2220.2V2223.2M144.9 2203.2H159.7M144.9 2223.2H159.7" stroke="#0433FF" stroke-width="2.5" stroke-linecap="round" fill="none"/>
<path d="M200.8 2208.8V2213.8M200.8 2227.8V2232.8M193.4 2208.8H208.2M193.4 2232.8H208.2" stroke="#0433FF" stroke-width="2.5" stroke-linecap="round" fill="none"/>
<path d="M491.7 2229.8V2254.8M491.7 2268.8V2293.8M484.3 2229.8H499.1M484.3 2293.8H499.1" stroke="#0433FF" stroke-width="2.5" stroke-linecap="round" fill="none"/>
<circle cx="152.3" cy="2213.2" r="7.6" fill="#0433FF"/>
<circle cx="200.8" cy="2220.8" r="7.6" fill="#0433FF"/>
<circle cx="249.3" cy="2224.7" r="7.6" fill="#0433FF"/>
<circle cx="297.7" cy="2235" r="7.6" fill="#0433FF"/>
<circle cx="346.2" cy="2232.3" r="7.6" fill="#0433FF"/>
<circle cx="394.7" cy="2236.1" r="7.6" fill="#0433FF"/>
<circle cx="443.2" cy="2240" r="7.6" fill="#0433FF"/>
<circle cx="491.7" cy="2261.8" r="7.6" fill="#0433FF"/>
<circle cx="540.1" cy="2236.1" r="7.6" fill="#0433FF"/>
<circle cx="588.6" cy="2236.9" r="7.6" fill="#0433FF"/>
<circle cx="637.1" cy="2226.6" r="7.6" fill="#0433FF"/>
<circle cx="685.6" cy="2249.5" r="7.6" fill="#0433FF"/>
<text transform="translate(200.8 2116.8) scale(0.83 1)" x="0" y="9.9" font-size="29.5" font-weight="normal" text-anchor="middle" stroke="#000" stroke-width="0.6">$</text>
<text transform="translate(249.3 2123.7) scale(0.83 1)" x="0" y="9.9" font-size="29.5" font-weight="normal" text-anchor="middle" stroke="#000" stroke-width="0.6">$</text>
<text transform="translate(297.7 2155) scale(0.83 1)" x="0" y="9.9" font-size="29.5" font-weight="normal" text-anchor="middle" stroke="#000" stroke-width="0.6">$</text>
<text transform="translate(346.2 2121.4) scale(0.83 1)" x="0" y="9.9" font-size="29.5" font-weight="normal" text-anchor="middle" stroke="#000" stroke-width="0.6">$</text>
<text transform="translate(394.7 2135.1) scale(0.83 1)" x="0" y="9.9" font-size="29.5" font-weight="normal" text-anchor="middle" stroke="#000" stroke-width="0.6">$</text>
<text transform="translate(443.2 2135.1) scale(0.83 1)" x="0" y="9.9" font-size="29.5" font-weight="normal" text-anchor="middle" stroke="#000" stroke-width="0.6">$</text>
<text transform="translate(491.7 2139.7) scale(0.83 1)" x="0" y="9.9" font-size="29.5" font-weight="normal" text-anchor="middle" stroke="#000" stroke-width="0.6">$</text>
<text transform="translate(540.1 2118.7) scale(0.83 1)" x="0" y="9.9" font-size="29.5" font-weight="normal" text-anchor="middle" stroke="#000" stroke-width="0.6">$</text>
<text transform="translate(588.6 2127.5) scale(0.83 1)" x="0" y="9.9" font-size="29.5" font-weight="normal" text-anchor="middle" stroke="#000" stroke-width="0.6">$</text>
<text transform="translate(637.1 2129.4) scale(0.83 1)" x="0" y="9.9" font-size="29.5" font-weight="normal" text-anchor="middle" stroke="#000" stroke-width="0.6">$</text>
<text transform="translate(685.6 2153.1) scale(0.83 1)" x="0" y="9.9" font-size="29.5" font-weight="normal" text-anchor="middle" stroke="#000" stroke-width="0.6">$</text>
<line x1="335.8" y1="1959" x2="378.8" y2="1959" stroke="#0433FF" stroke-width="2.3" stroke-linecap="butt"/>
<circle cx="357.3" cy="1959" r="7.6" fill="#0433FF"/>
<text transform="translate(402 1968.7) scale(1 1.1)" x="0" y="0" font-size="26" font-weight="normal" text-anchor="start" stroke="#000" stroke-width="0.3">wt,CD</text>
<line x1="525.5" y1="1959" x2="568.5" y2="1959" stroke="#008F00" stroke-width="2.3" stroke-linecap="butt"/>
<circle cx="547" cy="1959" r="7.6" fill="#008F00"/>
<text transform="translate(593.4 1968.7) scale(1 1.1)" x="0" y="0" font-size="26" font-weight="bold" text-anchor="start">KO,CD</text>
<line x1="335.8" y1="2005.1" x2="378.8" y2="2005.1" stroke="#B3C2FF" stroke-width="2.3" stroke-linecap="butt"/>
<circle cx="357.3" cy="2005.1" r="7.7" fill="none" stroke="#B3C2FF" stroke-width="4.2"/>
<text transform="translate(402 2014.8) scale(1 1.1)" x="0" y="0" font-size="26" font-weight="normal" text-anchor="start" stroke="#000" stroke-width="0.3">wt,MR</text>
<line x1="525.5" y1="2005.1" x2="568.5" y2="2005.1" stroke="#98DCA6" stroke-width="2.3" stroke-linecap="butt"/>
<circle cx="547" cy="2005.1" r="7.7" fill="none" stroke="#98DCA6" stroke-width="4.2"/>
<text transform="translate(593.4 2014.8) scale(1 1.1)" x="0" y="0" font-size="26" font-weight="bold" text-anchor="start">KO,MR</text>
<path d="M691.3 1949.2V1973.4M691.3 1993V2016.3" stroke="#000" stroke-width="6.4" stroke-linecap="round" fill="none"/>
<path d="M691.3 1958.9H711.8V2002.6H691.3" stroke="#000" stroke-width="6.4" stroke-linejoin="miter" fill="none"/>
<text x="722.6" y="2006.7" font-size="46.5" font-weight="bold" text-anchor="start" letter-spacing="-0.7" stroke="#000" stroke-width="0.6" stroke-linejoin="round" style="font-family:'DejaVu Sans',sans-serif">***</text>
<text x="164.5" y="2044.3" font-size="106" font-weight="normal" stroke="#fff" stroke-width="2.3" transform="rotate(-19 197 2016.5)">&#9794;</text>
<text x="866.8" y="1955.1" font-size="61" font-weight="bold" text-anchor="start">h</text>
<line x1="990" y1="1991" x2="990" y2="2384.6" stroke="#000" stroke-width="4.2" stroke-linecap="butt"/>
<line x1="973.6" y1="2285.2" x2="990" y2="2285.2" stroke="#000" stroke-width="4.2" stroke-linecap="butt"/>
<text transform="translate(970.9 2295.7) scale(1 1.05)" x="0" y="0" font-size="30" font-weight="bold" text-anchor="end">0.05</text>
<line x1="973.6" y1="2187.8" x2="990" y2="2187.8" stroke="#000" stroke-width="4.2" stroke-linecap="butt"/>
<text transform="translate(970.9 2198.3) scale(1 1.05)" x="0" y="0" font-size="30" font-weight="bold" text-anchor="end">0.10</text>
<line x1="973.6" y1="2090.4" x2="990" y2="2090.4" stroke="#000" stroke-width="4.2" stroke-linecap="butt"/>
<text transform="translate(970.9 2101) scale(1 1.05)" x="0" y="0" font-size="30" font-weight="bold" text-anchor="end">0.15</text>
<line x1="973.6" y1="1993.1" x2="990" y2="1993.1" stroke="#000" stroke-width="4.2" stroke-linecap="butt"/>
<text transform="translate(970.9 2003.6) scale(1 1.05)" x="0" y="0" font-size="30" font-weight="bold" text-anchor="end">0.20</text>
<line x1="973.6" y1="2382.5" x2="1572" y2="2382.5" stroke="#000" stroke-width="4.2" stroke-linecap="butt"/>
<line x1="1013.7" y1="2382.5" x2="1013.7" y2="2399.2" stroke="#000" stroke-width="4.2" stroke-linecap="butt"/>
<text transform="translate(1013.7 2427.6) scale(1 1.05)" x="0" y="0" font-size="30" font-weight="bold" text-anchor="middle">1</text>
<line x1="1062.3" y1="2382.5" x2="1062.3" y2="2399.2" stroke="#000" stroke-width="4.2" stroke-linecap="butt"/>
<text transform="translate(1062.3 2427.6) scale(1 1.05)" x="0" y="0" font-size="30" font-weight="bold" text-anchor="middle">2</text>
<line x1="1110.9" y1="2382.5" x2="1110.9" y2="2399.2" stroke="#000" stroke-width="4.2" stroke-linecap="butt"/>
<text transform="translate(1110.9 2427.6) scale(1 1.05)" x="0" y="0" font-size="30" font-weight="bold" text-anchor="middle">3</text>
<line x1="1159.5" y1="2382.5" x2="1159.5" y2="2399.2" stroke="#000" stroke-width="4.2" stroke-linecap="butt"/>
<text transform="translate(1159.5 2427.6) scale(1 1.05)" x="0" y="0" font-size="30" font-weight="bold" text-anchor="middle">4</text>
<line x1="1208.1" y1="2382.5" x2="1208.1" y2="2399.2" stroke="#000" stroke-width="4.2" stroke-linecap="butt"/>
<text transform="translate(1208.1 2427.6) scale(1 1.05)" x="0" y="0" font-size="30" font-weight="bold" text-anchor="middle">5</text>
<line x1="1256.7" y1="2382.5" x2="1256.7" y2="2399.2" stroke="#000" stroke-width="4.2" stroke-linecap="butt"/>
<text transform="translate(1256.7 2427.6) scale(1 1.05)" x="0" y="0" font-size="30" font-weight="bold" text-anchor="middle">6</text>
<line x1="1305.3" y1="2382.5" x2="1305.3" y2="2399.2" stroke="#000" stroke-width="4.2" stroke-linecap="butt"/>
<text transform="translate(1305.3 2427.6) scale(1 1.05)" x="0" y="0" font-size="30" font-weight="bold" text-anchor="middle">7</text>
<line x1="1353.9" y1="2382.5" x2="1353.9" y2="2399.2" stroke="#000" stroke-width="4.2" stroke-linecap="butt"/>
<text transform="translate(1353.9 2427.6) scale(1 1.05)" x="0" y="0" font-size="30" font-weight="bold" text-anchor="middle">8</text>
<line x1="1402.5" y1="2382.5" x2="1402.5" y2="2399.2" stroke="#000" stroke-width="4.2" stroke-linecap="butt"/>
<text transform="translate(1402.5 2427.6) scale(1 1.05)" x="0" y="0" font-size="30" font-weight="bold" text-anchor="middle">9</text>
<line x1="1451.1" y1="2382.5" x2="1451.1" y2="2399.2" stroke="#000" stroke-width="4.2" stroke-linecap="butt"/>
<text transform="translate(1451.1 2427.6) scale(1 1.05)" x="0" y="0" font-size="30" font-weight="bold" text-anchor="middle">10</text>
<line x1="1499.7" y1="2382.5" x2="1499.7" y2="2399.2" stroke="#000" stroke-width="4.2" stroke-linecap="butt"/>
<text transform="translate(1499.7 2427.6) scale(1 1.05)" x="0" y="0" font-size="30" font-weight="bold" text-anchor="middle">11</text>
<line x1="1548.3" y1="2382.5" x2="1548.3" y2="2399.2" stroke="#000" stroke-width="4.2" stroke-linecap="butt"/>
<text transform="translate(1548.3 2427.6) scale(1 1.05)" x="0" y="0" font-size="30" font-weight="bold" text-anchor="middle">12</text>
<text transform="translate(970.9 2393) scale(1 1.05)" x="0" y="0" font-size="30" font-weight="bold" text-anchor="end">0.00</text>
<text transform="translate(1281 2480.6) scale(1 1.06)" x="0" y="0" font-size="31.5" font-weight="bold" text-anchor="middle">Week on Treatment</text>
<text transform="translate(891.5 2186) rotate(-90) scale(1 1.06)" x="0" y="0" font-size="31.0" font-weight="bold" text-anchor="middle">g Food / g Mouse / Day</text>
<polyline points="1013.7,2069.8 1062.3,2141.7 1110.9,2136.7 1159.5,2157.8 1208.1,2131.7 1256.7,2143.2 1305.3,2127.2 1353.9,2134 1402.5,2115.7 1451.1,2127.2 1499.7,2134 1548.3,2157.8" fill="none" stroke="#E8BBFF" stroke-width="2.3" stroke-linejoin="round"/>
<path d="M1006.3 2061.2H1021.1M1006.3 2078.4H1021.1" stroke="#E8BBFF" stroke-width="2.5" stroke-linecap="round" fill="none"/>
<path d="M1103.5 2128.1H1118.3M1103.5 2145.3H1118.3" stroke="#E8BBFF" stroke-width="2.5" stroke-linecap="round" fill="none"/>
<path d="M1249.3 2134.6H1264.1M1249.3 2151.8H1264.1" stroke="#E8BBFF" stroke-width="2.5" stroke-linecap="round" fill="none"/>
<path d="M1395.1 2107.1H1409.9M1395.1 2124.3H1409.9" stroke="#E8BBFF" stroke-width="2.5" stroke-linecap="round" fill="none"/>
<path d="M1451.1 2117.2V2117.6M1451.1 2136.8V2137.2M1443.7 2117.2H1458.5M1443.7 2137.2H1458.5" stroke="#E8BBFF" stroke-width="2.5" stroke-linecap="round" fill="none"/>
<path d="M1540.9 2149.2H1555.7M1540.9 2166.4H1555.7" stroke="#E8BBFF" stroke-width="2.5" stroke-linecap="round" fill="none"/>
<circle cx="1013.7" cy="2069.8" r="7.7" fill="none" stroke="#E8BBFF" stroke-width="4.2"/>
<circle cx="1062.3" cy="2141.7" r="7.7" fill="none" stroke="#E8BBFF" stroke-width="4.2"/>
<circle cx="1110.9" cy="2136.7" r="7.7" fill="none" stroke="#E8BBFF" stroke-width="4.2"/>
<circle cx="1159.5" cy="2157.8" r="7.7" fill="none" stroke="#E8BBFF" stroke-width="4.2"/>
<circle cx="1208.1" cy="2131.7" r="7.7" fill="none" stroke="#E8BBFF" stroke-width="4.2"/>
<circle cx="1256.7" cy="2143.2" r="7.7" fill="none" stroke="#E8BBFF" stroke-width="4.2"/>
<circle cx="1305.3" cy="2127.2" r="7.7" fill="none" stroke="#E8BBFF" stroke-width="4.2"/>
<circle cx="1353.9" cy="2134" r="7.7" fill="none" stroke="#E8BBFF" stroke-width="4.2"/>
<circle cx="1402.5" cy="2115.7" r="7.7" fill="none" stroke="#E8BBFF" stroke-width="4.2"/>
<circle cx="1451.1" cy="2127.2" r="7.7" fill="none" stroke="#E8BBFF" stroke-width="4.2"/>
<circle cx="1499.7" cy="2134" r="7.7" fill="none" stroke="#E8BBFF" stroke-width="4.2"/>
<circle cx="1548.3" cy="2157.8" r="7.7" fill="none" stroke="#E8BBFF" stroke-width="4.2"/>
<polyline points="1013.7,2052.5 1062.3,2192.2 1110.9,2189.5 1159.5,2202.9 1208.1,2192.2 1256.7,2195.3 1305.3,2209.4 1353.9,2199.9 1402.5,2207.5 1451.1,2195.3 1499.7,2182.6 1548.3,2193.4" fill="none" stroke="#CC3BFF" stroke-width="2.3" stroke-linejoin="round"/>
<path d="M1013.7 2035.5V2045.5M1013.7 2059.5V2069.5M1006.3 2035.5H1021.1M1006.3 2069.5H1021.1" stroke="#CC3BFF" stroke-width="2.5" stroke-linecap="round" fill="none"/>
<path d="M1353.9 2184.9V2192.9M1353.9 2206.9V2214.9M1346.5 2184.9H1361.3M1346.5 2214.9H1361.3" stroke="#CC3BFF" stroke-width="2.5" stroke-linecap="round" fill="none"/>
<path d="M1548.3 2184.8V2186.4M1548.3 2200.4V2202M1540.9 2184.8H1555.7M1540.9 2202H1555.7" stroke="#CC3BFF" stroke-width="2.5" stroke-linecap="round" fill="none"/>
<circle cx="1013.7" cy="2052.5" r="7.6" fill="#CC3BFF"/>
<circle cx="1062.3" cy="2192.2" r="7.6" fill="#CC3BFF"/>
<circle cx="1110.9" cy="2189.5" r="7.6" fill="#CC3BFF"/>
<circle cx="1159.5" cy="2202.9" r="7.6" fill="#CC3BFF"/>
<circle cx="1208.1" cy="2192.2" r="7.6" fill="#CC3BFF"/>
<circle cx="1256.7" cy="2195.3" r="7.6" fill="#CC3BFF"/>
<circle cx="1305.3" cy="2209.4" r="7.6" fill="#CC3BFF"/>
<circle cx="1353.9" cy="2199.9" r="7.6" fill="#CC3BFF"/>
<circle cx="1402.5" cy="2207.5" r="7.6" fill="#CC3BFF"/>
<circle cx="1451.1" cy="2195.3" r="7.6" fill="#CC3BFF"/>
<circle cx="1499.7" cy="2182.6" r="7.6" fill="#CC3BFF"/>
<circle cx="1548.3" cy="2193.4" r="7.6" fill="#CC3BFF"/>
<polyline points="1013.7,2105 1062.3,2141.7 1110.9,2142.5 1159.5,2143.6 1208.1,2137.5 1256.7,2135.6 1305.3,2139.4 1353.9,2139.4 1402.5,2119.5 1451.1,2148.2 1499.7,2133.3 1548.3,2157" fill="none" stroke="#FF9AA2" stroke-width="2.3" stroke-linejoin="round"/>
<path d="M1054.9 2133.1H1069.7M1054.9 2150.3H1069.7" stroke="#FF9AA2" stroke-width="2.5" stroke-linecap="round" fill="none"/>
<path d="M1110.9 2130.5V2132.9M1110.9 2152.1V2154.5M1103.5 2130.5H1118.3M1103.5 2154.5H1118.3" stroke="#FF9AA2" stroke-width="2.5" stroke-linecap="round" fill="none"/>
<path d="M1152.1 2135H1166.9M1152.1 2152.2H1166.9" stroke="#FF9AA2" stroke-width="2.5" stroke-linecap="round" fill="none"/>
<path d="M1256.7 2123.2V2126M1256.7 2145.2V2148M1249.3 2123.2H1264.1M1249.3 2148H1264.1" stroke="#FF9AA2" stroke-width="2.5" stroke-linecap="round" fill="none"/>
<path d="M1402.5 2101.7V2109.9M1402.5 2129.1V2137.3M1395.1 2101.7H1409.9M1395.1 2137.3H1409.9" stroke="#FF9AA2" stroke-width="2.5" stroke-linecap="round" fill="none"/>
<path d="M1451.1 2138.2V2138.6M1451.1 2157.8V2158.2M1443.7 2138.2H1458.5M1443.7 2158.2H1458.5" stroke="#FF9AA2" stroke-width="2.5" stroke-linecap="round" fill="none"/>
<path d="M1492.3 2124.7H1507.1M1492.3 2141.9H1507.1" stroke="#FF9AA2" stroke-width="2.5" stroke-linecap="round" fill="none"/>
<path d="M1540.9 2148.4H1555.7M1540.9 2165.6H1555.7" stroke="#FF9AA2" stroke-width="2.5" stroke-linecap="round" fill="none"/>
<circle cx="1013.7" cy="2105" r="7.7" fill="none" stroke="#FF9AA2" stroke-width="4.2"/>
<circle cx="1062.3" cy="2141.7" r="7.7" fill="none" stroke="#FF9AA2" stroke-width="4.2"/>
<circle cx="1110.9" cy="2142.5" r="7.7" fill="none" stroke="#FF9AA2" stroke-width="4.2"/>
<circle cx="1159.5" cy="2143.6" r="7.7" fill="none" stroke="#FF9AA2" stroke-width="4.2"/>
<circle cx="1208.1" cy="2137.5" r="7.7" fill="none" stroke="#FF9AA2" stroke-width="4.2"/>
<circle cx="1256.7" cy="2135.6" r="7.7" fill="none" stroke="#FF9AA2" stroke-width="4.2"/>
<circle cx="1305.3" cy="2139.4" r="7.7" fill="none" stroke="#FF9AA2" stroke-width="4.2"/>
<circle cx="1353.9" cy="2139.4" r="7.7" fill="none" stroke="#FF9AA2" stroke-width="4.2"/>
<circle cx="1402.5" cy="2119.5" r="7.7" fill="none" stroke="#FF9AA2" stroke-width="4.2"/>
<circle cx="1451.1" cy="2148.2" r="7.7" fill="none" stroke="#FF9AA2" stroke-width="4.2"/>
<circle cx="1499.7" cy="2133.3" r="7.7" fill="none" stroke="#FF9AA2" stroke-width="4.2"/>
<circle cx="1548.3" cy="2157" r="7.7" fill="none" stroke="#FF9AA2" stroke-width="4.2"/>
<polyline points="1013.7,2095 1062.3,2192.2 1110.9,2199.1 1159.5,2203.7 1208.1,2219.8 1256.7,2201.8 1305.3,2219 1353.9,2208.7 1402.5,2225.5 1451.1,2216.3 1499.7,2199.1 1548.3,2210.6" fill="none" stroke="#FF2600" stroke-width="2.3" stroke-linejoin="round"/>
<path d="M1013.7 2060V2088M1013.7 2102V2130M1006.3 2060H1021.1M1006.3 2130H1021.1" stroke="#FF2600" stroke-width="2.5" stroke-linecap="round" fill="none"/>
<path d="M1110.9 2188.6V2192.1M1110.9 2206.1V2209.6M1103.5 2188.6H1118.3M1103.5 2209.6H1118.3" stroke="#FF2600" stroke-width="2.5" stroke-linecap="round" fill="none"/>
<path d="M1256.7 2184.2V2194.8M1256.7 2208.8V2219.4M1249.3 2184.2H1264.1M1249.3 2219.4H1264.1" stroke="#FF2600" stroke-width="2.5" stroke-linecap="round" fill="none"/>
<path d="M1451.1 2193.9V2209.3M1451.1 2223.3V2238.7M1443.7 2193.9H1458.5M1443.7 2238.7H1458.5" stroke="#FF2600" stroke-width="2.5" stroke-linecap="round" fill="none"/>
<path d="M1499.7 2186.7V2192.1M1499.7 2206.1V2211.5M1492.3 2186.7H1507.1M1492.3 2211.5H1507.1" stroke="#FF2600" stroke-width="2.5" stroke-linecap="round" fill="none"/>
<circle cx="1013.7" cy="2095" r="7.6" fill="#FF2600"/>
<circle cx="1062.3" cy="2192.2" r="7.6" fill="#FF2600"/>
<circle cx="1110.9" cy="2199.1" r="7.6" fill="#FF2600"/>
<circle cx="1159.5" cy="2203.7" r="7.6" fill="#FF2600"/>
<circle cx="1208.1" cy="2219.8" r="7.6" fill="#FF2600"/>
<circle cx="1256.7" cy="2201.8" r="7.6" fill="#FF2600"/>
<circle cx="1305.3" cy="2219" r="7.6" fill="#FF2600"/>
<circle cx="1353.9" cy="2208.7" r="7.6" fill="#FF2600"/>
<circle cx="1402.5" cy="2225.5" r="7.6" fill="#FF2600"/>
<circle cx="1451.1" cy="2216.3" r="7.6" fill="#FF2600"/>
<circle cx="1499.7" cy="2199.1" r="7.6" fill="#FF2600"/>
<circle cx="1548.3" cy="2210.6" r="7.6" fill="#FF2600"/>
<line x1="1184.5" y1="1955.6" x2="1227.5" y2="1955.6" stroke="#FF2600" stroke-width="2.3" stroke-linecap="butt"/>
<circle cx="1206" cy="1955.6" r="7.6" fill="#FF2600"/>
<text transform="translate(1249.9 1965.3) scale(1 1.1)" x="0" y="0" font-size="26" font-weight="normal" text-anchor="start" stroke="#000" stroke-width="0.3">wt,CD</text>
<line x1="1389" y1="1955.6" x2="1432" y2="1955.6" stroke="#CC3BFF" stroke-width="2.3" stroke-linecap="butt"/>
<circle cx="1410.5" cy="1955.6" r="7.6" fill="#CC3BFF"/>
<text transform="translate(1455 1965.3) scale(1 1.1)" x="0" y="0" font-size="26" font-weight="bold" text-anchor="start">KO,CD</text>
<line x1="1184.5" y1="2001" x2="1227.5" y2="2001" stroke="#FF9AA2" stroke-width="2.3" stroke-linecap="butt"/>
<circle cx="1206" cy="2001" r="7.7" fill="none" stroke="#FF9AA2" stroke-width="4.2"/>
<text transform="translate(1249.9 2010.7) scale(1 1.1)" x="0" y="0" font-size="26" font-weight="normal" text-anchor="start" stroke="#000" stroke-width="0.3">wt,MR</text>
<line x1="1389" y1="2001" x2="1432" y2="2001" stroke="#E8BBFF" stroke-width="2.3" stroke-linecap="butt"/>
<circle cx="1410.5" cy="2001" r="7.7" fill="none" stroke="#E8BBFF" stroke-width="4.2"/>
<text transform="translate(1455 2010.7) scale(1 1.1)" x="0" y="0" font-size="26" font-weight="bold" text-anchor="start">KO,MR</text>
<path d="M1551 1946.2V1968.8M1551 1990.5V2013.2" stroke="#000" stroke-width="6.4" stroke-linecap="round" fill="none"/>
<path d="M1551 1956.1H1571.5V2002.7H1551" stroke="#000" stroke-width="6.4" stroke-linejoin="miter" fill="none"/>
<text x="1581.1" y="2004.8" font-size="46.5" font-weight="bold" text-anchor="start" letter-spacing="-0.7" stroke="#000" stroke-width="0.6" stroke-linejoin="round" style="font-family:'DejaVu Sans',sans-serif">***</text>
<text x="1024" y="2037.3" font-size="102" font-weight="normal" stroke="#fff" stroke-width="2.4">&#9792;</text>
</svg>
</body></html>
